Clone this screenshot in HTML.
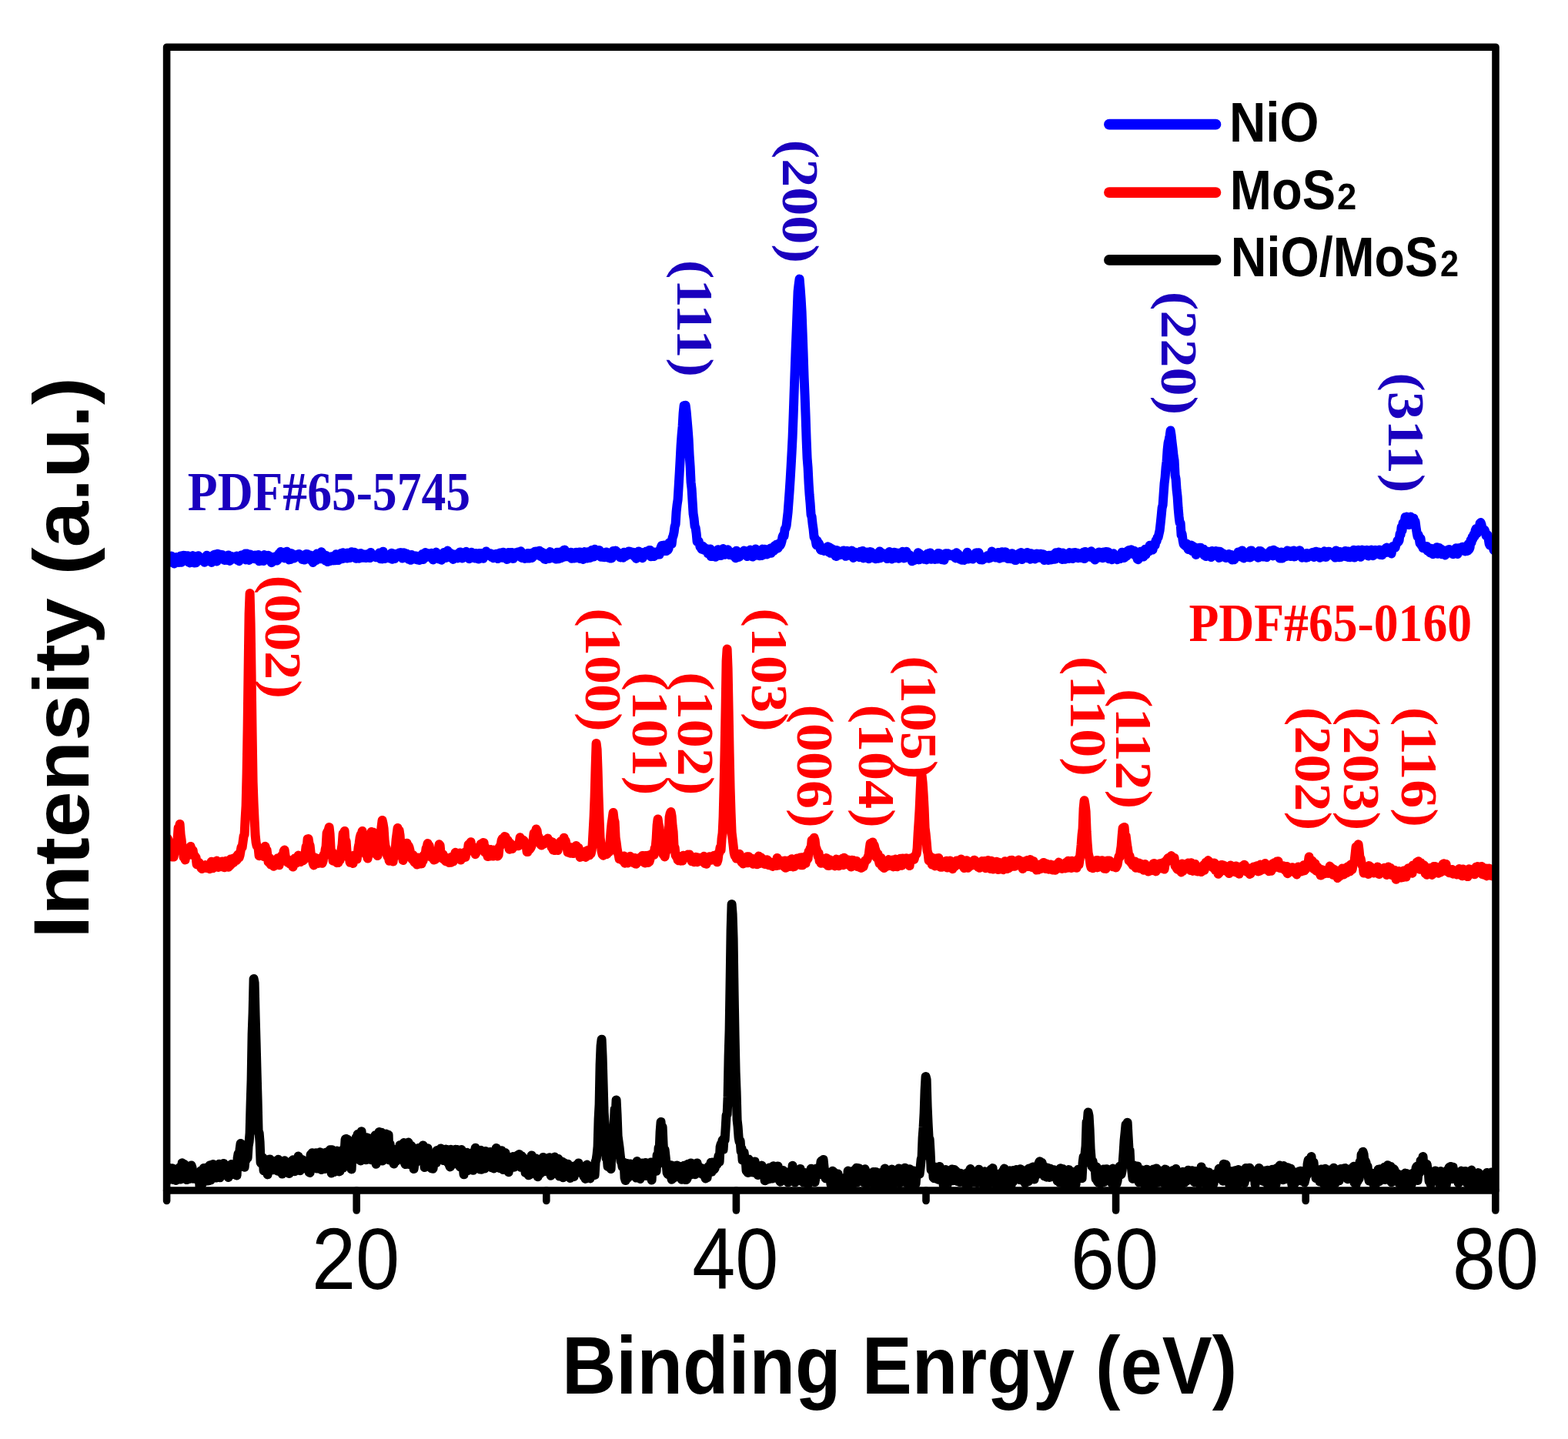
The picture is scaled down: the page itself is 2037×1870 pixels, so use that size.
<!DOCTYPE html>
<html><head><meta charset="utf-8"><title>XRD patterns</title>
<style>html,body{margin:0;padding:0;background:#fff;}body{width:2037px;height:1870px;overflow:hidden;}svg{display:block;filter:blur(0.55px);}</style>
</head><body>
<svg width="2037" height="1870" viewBox="0 0 2037 1870">
<clipPath id="c"><rect x="216.6" y="0" width="1726.4" height="1547"/></clipPath>
<path clip-path="url(#c)" d="M216.6,1535.5 L217.6,1518.6 218.6,1519.3 219.6,1517.8 220.6,1526.7 221.6,1524.2 222.6,1531.6 223.6,1518.2 224.6,1532.9 225.6,1523.9 226.6,1531.5 227.6,1531.5 228.6,1533.9 229.6,1524.9 230.6,1527.4 231.6,1526.4 232.6,1517.6 233.6,1523.8 234.6,1532.5 235.6,1531.5 236.6,1511.3 237.6,1524.7 238.6,1516.7 239.6,1513.1 240.6,1513.8 241.6,1528.8 242.6,1533.1 243.6,1524.1 244.6,1521.7 245.6,1525.1 246.6,1531.9 247.6,1529.8 248.6,1514.5 249.6,1517.6 250.6,1531.7 251.6,1523.2 252.6,1526.6 253.6,1530.7 254.6,1529.1 255.6,1532.7 256.6,1530.1 257.6,1524.6 258.6,1525.1 259.6,1544.3 260.6,1521.6 261.6,1535.4 262.6,1538.5 263.6,1523.1 264.6,1517.9 265.6,1524.5 266.6,1521.8 267.6,1524.5 268.6,1523.5 269.6,1534.6 270.6,1516.3 271.6,1534.2 272.6,1514.2 273.6,1533.6 274.6,1520.2 275.6,1528.9 276.6,1513.0 277.6,1522.7 278.6,1527.8 279.6,1526.7 280.6,1530.6 281.6,1516.0 282.6,1521.3 283.6,1525.8 284.6,1512.7 285.6,1530.3 286.6,1520.9 287.6,1516.9 288.6,1516.2 289.6,1525.4 290.6,1511.9 291.6,1516.0 292.6,1517.1 293.6,1515.9 294.6,1526.0 295.6,1523.1 296.6,1530.0 297.6,1525.6 298.6,1516.7 299.6,1517.4 300.6,1513.0 301.6,1515.6 302.6,1523.5 303.6,1526.1 304.6,1516.3 305.6,1516.9 306.6,1525.9 307.6,1527.5 308.6,1505.0 309.6,1499.1 310.6,1506.9 311.6,1493.3 312.6,1486.0 313.6,1490.2 314.6,1497.3 315.6,1488.0 316.6,1513.2 317.6,1516.8 318.6,1506.6 319.6,1507.6 320.6,1501.5 321.6,1504.7 322.6,1489.4 323.6,1484.0 324.6,1472.4 325.6,1434.8 326.6,1403.5 327.6,1344.2 328.6,1316.1 329.6,1272.0 330.6,1277.2 331.6,1319.6 332.6,1354.7 333.6,1394.2 334.6,1429.5 335.6,1471.4 336.6,1472.0 337.6,1484.2 338.6,1510.9 339.6,1511.9 340.6,1506.0 341.6,1504.5 342.6,1521.2 343.6,1521.1 344.6,1519.0 345.6,1516.3 346.6,1516.4 347.6,1526.4 348.6,1516.4 349.6,1506.7 350.6,1506.4 351.6,1517.7 352.6,1520.5 353.6,1517.9 354.6,1520.2 355.6,1510.0 356.6,1511.4 357.6,1508.8 358.6,1511.3 359.6,1509.1 360.6,1521.7 361.6,1506.7 362.6,1508.1 363.6,1519.3 364.6,1512.5 365.6,1511.5 366.6,1525.6 367.6,1524.1 368.6,1509.4 369.6,1508.2 370.6,1515.8 371.6,1517.8 372.6,1513.2 373.6,1519.1 374.6,1521.5 375.6,1525.0 376.6,1512.6 377.6,1522.1 378.6,1509.2 379.6,1508.5 380.6,1507.4 381.6,1507.9 382.6,1522.2 383.6,1511.9 384.6,1513.9 385.6,1512.0 386.6,1506.3 387.6,1502.5 388.6,1505.5 389.6,1521.2 390.6,1509.0 391.6,1510.8 392.6,1507.1 393.6,1518.7 394.6,1518.1 395.6,1510.9 396.6,1514.2 397.6,1511.9 398.6,1516.5 399.6,1517.3 400.6,1516.2 401.6,1523.5 402.6,1524.0 403.6,1500.5 404.6,1507.9 405.6,1498.2 406.6,1506.0 407.6,1517.5 408.6,1514.3 409.6,1511.4 410.6,1498.3 411.6,1518.5 412.6,1513.1 413.6,1504.4 414.6,1518.6 415.6,1497.3 416.6,1501.9 417.6,1520.1 418.6,1498.2 419.6,1501.1 420.6,1512.7 421.6,1519.0 422.6,1515.0 423.6,1497.4 424.6,1504.6 425.6,1518.1 426.6,1506.3 427.6,1501.0 428.6,1494.2 429.6,1502.4 430.6,1524.5 431.6,1494.3 432.6,1511.1 433.6,1523.1 434.6,1515.6 435.6,1501.0 436.6,1514.2 437.6,1495.4 438.6,1509.0 439.6,1500.3 440.6,1522.4 441.6,1522.0 442.6,1516.0 443.6,1499.6 444.6,1513.0 445.6,1517.7 446.6,1492.7 447.6,1496.4 448.6,1480.5 449.6,1479.9 450.6,1504.6 451.6,1480.8 452.6,1503.1 453.6,1485.7 454.6,1508.7 455.6,1513.5 456.6,1519.4 457.6,1496.4 458.6,1494.9 459.6,1493.9 460.6,1504.6 461.6,1506.5 462.6,1478.2 463.6,1485.7 464.6,1474.0 465.6,1480.4 466.6,1499.9 467.6,1507.5 468.6,1508.5 469.6,1470.2 470.6,1484.4 471.6,1504.5 472.6,1489.8 473.6,1483.8 474.6,1502.8 475.6,1507.2 476.6,1478.2 477.6,1494.0 478.6,1478.9 479.6,1480.6 480.6,1495.4 481.6,1484.2 482.6,1507.3 483.6,1489.4 484.6,1481.4 485.6,1499.2 486.6,1483.7 487.6,1475.2 488.6,1512.8 489.6,1479.1 490.6,1476.5 491.6,1490.4 492.6,1470.9 493.6,1502.3 494.6,1473.3 495.6,1471.7 496.6,1508.6 497.6,1490.3 498.6,1507.4 499.6,1506.7 500.6,1500.8 501.6,1473.5 502.6,1498.4 503.6,1476.2 504.6,1474.7 505.6,1507.5 506.6,1486.5 507.6,1503.7 508.6,1495.2 509.6,1505.2 510.6,1499.6 511.6,1512.5 512.6,1494.0 513.6,1509.4 514.6,1508.9 515.6,1500.7 516.6,1498.4 517.6,1496.3 518.6,1505.3 519.6,1487.9 520.6,1497.1 521.6,1504.9 522.6,1492.3 523.6,1489.0 524.6,1485.1 525.6,1510.5 526.6,1513.1 527.6,1511.6 528.6,1507.1 529.6,1503.5 530.6,1484.6 531.6,1513.1 532.6,1499.2 533.6,1507.2 534.6,1489.1 535.6,1510.7 536.6,1491.8 537.6,1519.0 538.6,1511.8 539.6,1506.8 540.6,1510.4 541.6,1496.8 542.6,1504.9 543.6,1492.0 544.6,1497.7 545.6,1497.5 546.6,1493.3 547.6,1500.6 548.6,1489.8 549.6,1488.4 550.6,1497.4 551.6,1517.0 552.6,1508.8 553.6,1499.6 554.6,1493.6 555.6,1492.2 556.6,1501.9 557.6,1509.9 558.6,1515.9 559.6,1505.9 560.6,1518.5 561.6,1517.4 562.6,1518.7 563.6,1503.3 564.6,1507.4 565.6,1498.4 566.6,1511.2 567.6,1495.1 568.6,1507.6 569.6,1498.2 570.6,1507.3 571.6,1498.2 572.6,1492.5 573.6,1504.8 574.6,1504.7 575.6,1508.0 576.6,1495.3 577.6,1506.4 578.6,1500.3 579.6,1493.6 580.6,1503.3 581.6,1510.8 582.6,1500.5 583.6,1513.5 584.6,1516.4 585.6,1493.8 586.6,1500.4 587.6,1503.1 588.6,1513.0 589.6,1508.6 590.6,1509.8 591.6,1493.7 592.6,1498.9 593.6,1493.9 594.6,1510.2 595.6,1507.1 596.6,1497.5 597.6,1516.3 598.6,1495.8 599.6,1494.0 600.6,1506.3 601.6,1516.6 602.6,1526.3 603.6,1513.0 604.6,1501.7 605.6,1515.2 606.6,1497.8 607.6,1521.3 608.6,1506.5 609.6,1499.7 610.6,1500.1 611.6,1519.0 612.6,1520.2 613.6,1498.0 614.6,1520.8 615.6,1515.7 616.6,1499.2 617.6,1491.8 618.6,1495.4 619.6,1504.4 620.6,1498.3 621.6,1498.3 622.6,1501.5 623.6,1519.6 624.6,1494.8 625.6,1519.8 626.6,1505.7 627.6,1513.5 628.6,1506.5 629.6,1518.4 630.6,1496.1 631.6,1498.8 632.6,1506.6 633.6,1507.1 634.6,1502.7 635.6,1502.5 636.6,1496.9 637.6,1509.0 638.6,1517.2 639.6,1517.1 640.6,1503.5 641.6,1518.5 642.6,1517.3 643.6,1498.4 644.6,1492.0 645.6,1512.6 646.6,1516.1 647.6,1508.6 648.6,1517.9 649.6,1505.0 650.6,1506.9 651.6,1495.2 652.6,1504.1 653.6,1520.0 654.6,1498.4 655.6,1500.1 656.6,1498.1 657.6,1511.4 658.6,1515.1 659.6,1513.5 660.6,1523.2 661.6,1518.2 662.6,1517.4 663.6,1516.8 664.6,1514.6 665.6,1503.4 666.6,1503.1 667.6,1516.7 668.6,1504.2 669.6,1508.6 670.6,1513.8 671.6,1511.5 672.6,1501.2 673.6,1502.6 674.6,1500.0 675.6,1514.5 676.6,1516.8 677.6,1502.2 678.6,1506.7 679.6,1504.3 680.6,1516.7 681.6,1508.8 682.6,1524.1 683.6,1508.7 684.6,1518.9 685.6,1519.0 686.6,1527.2 687.6,1521.2 688.6,1526.4 689.6,1517.0 690.6,1501.6 691.6,1509.7 692.6,1520.1 693.6,1509.5 694.6,1518.5 695.6,1505.2 696.6,1519.8 697.6,1513.8 698.6,1529.2 699.6,1507.3 700.6,1515.6 701.6,1525.2 702.6,1514.5 703.6,1515.3 704.6,1511.0 705.6,1503.9 706.6,1508.7 707.6,1522.2 708.6,1519.9 709.6,1508.6 710.6,1518.5 711.6,1522.4 712.6,1523.0 713.6,1504.3 714.6,1507.7 715.6,1527.8 716.6,1509.7 717.6,1522.3 718.6,1518.2 719.6,1524.1 720.6,1503.5 721.6,1525.1 722.6,1524.7 723.6,1509.7 724.6,1522.7 725.6,1506.1 726.6,1528.6 727.6,1518.6 728.6,1527.7 729.6,1528.7 730.6,1509.7 731.6,1530.2 732.6,1511.1 733.6,1512.1 734.6,1519.0 735.6,1513.9 736.6,1523.4 737.6,1512.7 738.6,1523.0 739.6,1526.3 740.6,1531.0 741.6,1518.0 742.6,1515.5 743.6,1521.9 744.6,1523.3 745.6,1529.1 746.6,1521.3 747.6,1517.7 748.6,1514.3 749.6,1523.4 750.6,1522.7 751.6,1511.4 752.6,1517.6 753.6,1515.8 754.6,1524.1 755.6,1522.7 756.6,1518.9 757.6,1526.6 758.6,1529.0 759.6,1521.5 760.6,1531.9 761.6,1515.1 762.6,1513.5 763.6,1527.4 764.6,1523.9 765.6,1527.7 766.6,1531.4 767.6,1521.4 768.6,1527.6 769.6,1523.0 770.6,1519.0 771.6,1517.6 772.6,1527.0 773.6,1509.8 774.6,1507.0 775.6,1500.1 776.6,1489.7 777.6,1454.0 778.6,1435.3 779.6,1383.6 780.6,1358.9 781.6,1350.7 782.6,1373.4 783.6,1409.2 784.6,1445.4 785.6,1459.8 786.6,1485.2 787.6,1505.4 788.6,1503.8 789.6,1516.0 790.6,1510.7 791.6,1511.6 792.6,1513.7 793.6,1519.1 794.6,1492.7 795.6,1488.3 796.6,1476.2 797.6,1463.3 798.6,1441.3 799.6,1450.2 800.6,1429.4 801.6,1449.1 802.6,1476.4 803.6,1483.7 804.6,1491.1 805.6,1500.5 806.6,1509.3 807.6,1510.3 808.6,1516.5 809.6,1517.0 810.6,1510.7 811.6,1530.6 812.6,1534.1 813.6,1523.8 814.6,1512.0 815.6,1530.5 816.6,1516.7 817.6,1516.3 818.6,1512.4 819.6,1527.5 820.6,1522.3 821.6,1513.4 822.6,1515.4 823.6,1517.0 824.6,1516.3 825.6,1523.6 826.6,1530.6 827.6,1509.0 828.6,1528.4 829.6,1528.5 830.6,1513.5 831.6,1531.9 832.6,1529.5 833.6,1526.0 834.6,1511.5 835.6,1519.8 836.6,1527.4 837.6,1522.7 838.6,1511.1 839.6,1528.0 840.6,1519.8 841.6,1515.3 842.6,1518.4 843.6,1512.6 844.6,1518.7 845.6,1510.5 846.6,1533.6 847.6,1513.1 848.6,1516.8 849.6,1514.7 850.6,1516.9 851.6,1512.0 852.6,1521.8 853.6,1501.0 854.6,1513.5 855.6,1491.5 856.6,1495.6 857.6,1470.8 858.6,1458.0 859.6,1474.6 860.6,1464.6 861.6,1487.3 862.6,1500.7 863.6,1494.2 864.6,1503.3 865.6,1513.8 866.6,1524.0 867.6,1525.9 868.6,1519.1 869.6,1522.0 870.6,1528.3 871.6,1514.3 872.6,1532.7 873.6,1531.8 874.6,1518.1 875.6,1527.6 876.6,1529.9 877.6,1527.9 878.6,1514.8 879.6,1514.5 880.6,1518.1 881.6,1515.3 882.6,1523.7 883.6,1529.3 884.6,1525.5 885.6,1532.7 886.6,1523.2 887.6,1522.1 888.6,1514.7 889.6,1532.9 890.6,1526.4 891.6,1533.1 892.6,1531.8 893.6,1512.8 894.6,1524.0 895.6,1521.2 896.6,1526.9 897.6,1511.4 898.6,1525.1 899.6,1524.2 900.6,1519.1 901.6,1513.8 902.6,1526.3 903.6,1512.4 904.6,1518.5 905.6,1511.4 906.6,1517.2 907.6,1515.6 908.6,1523.4 909.6,1524.5 910.6,1524.7 911.6,1518.3 912.6,1526.1 913.6,1524.2 914.6,1521.6 915.6,1527.1 916.6,1531.4 917.6,1520.7 918.6,1530.3 919.6,1521.9 920.6,1515.7 921.6,1516.6 922.6,1519.4 923.6,1510.8 924.6,1522.8 925.6,1510.6 926.6,1515.3 927.6,1519.7 928.6,1518.3 929.6,1513.8 930.6,1513.6 931.6,1513.2 932.6,1507.5 933.6,1501.8 934.6,1509.6 935.6,1490.5 936.6,1486.7 937.6,1487.3 938.6,1481.6 939.6,1493.8 940.6,1479.2 941.6,1481.3 942.6,1466.6 943.6,1449.1 944.6,1448.4 945.6,1425.2 946.6,1373.3 947.6,1339.2 948.6,1276.2 949.6,1209.0 950.6,1174.9 951.6,1188.2 952.6,1219.9 953.6,1289.9 954.6,1346.3 955.6,1392.7 956.6,1418.5 957.6,1455.3 958.6,1464.2 959.6,1478.1 960.6,1483.7 961.6,1482.4 962.6,1496.2 963.6,1492.8 964.6,1507.8 965.6,1500.7 966.6,1497.6 967.6,1506.3 968.6,1507.2 969.6,1521.6 970.6,1509.4 971.6,1523.9 972.6,1506.5 973.6,1510.2 974.6,1513.7 975.6,1523.3 976.6,1520.0 977.6,1515.5 978.6,1515.0 979.6,1523.8 980.6,1509.4 981.6,1523.2 982.6,1515.2 983.6,1523.3 984.6,1527.0 985.6,1519.5 986.6,1515.3 987.6,1517.3 988.6,1517.7 989.6,1514.6 990.6,1522.0 991.6,1527.0 992.6,1521.5 993.6,1534.2 994.6,1533.9 995.6,1531.0 996.6,1532.0 997.6,1522.0 998.6,1532.4 999.6,1517.5 1000.6,1517.3 1001.6,1518.9 1002.6,1523.4 1003.6,1531.5 1004.6,1515.3 1005.6,1522.2 1006.6,1525.9 1007.6,1530.5 1008.6,1523.3 1009.6,1517.6 1010.6,1515.4 1011.6,1526.0 1012.6,1533.9 1013.6,1535.7 1014.6,1532.3 1015.6,1524.0 1016.6,1521.7 1017.6,1521.1 1018.6,1526.0 1019.6,1531.8 1020.6,1523.3 1021.6,1533.7 1022.6,1526.9 1023.6,1536.6 1024.6,1530.1 1025.6,1534.5 1026.6,1522.4 1027.6,1528.5 1028.6,1534.6 1029.6,1514.7 1030.6,1534.9 1031.6,1527.6 1032.6,1536.6 1033.6,1521.1 1034.6,1525.7 1035.6,1530.1 1036.6,1528.3 1037.6,1528.9 1038.6,1534.3 1039.6,1519.0 1040.6,1531.2 1041.6,1525.3 1042.6,1535.6 1043.6,1536.5 1044.6,1525.6 1045.6,1524.0 1046.6,1536.2 1047.6,1537.4 1048.6,1533.9 1049.6,1537.0 1050.6,1538.2 1051.6,1528.1 1052.6,1525.4 1053.6,1518.8 1054.6,1527.1 1055.6,1522.0 1056.6,1532.8 1057.6,1529.6 1058.6,1536.1 1059.6,1529.6 1060.6,1518.5 1061.6,1519.4 1062.6,1520.1 1063.6,1518.8 1064.6,1526.0 1065.6,1516.9 1066.6,1509.1 1067.6,1508.2 1068.6,1516.1 1069.6,1507.0 1070.6,1517.0 1071.6,1528.3 1072.6,1531.3 1073.6,1525.5 1074.6,1526.8 1075.6,1523.5 1076.6,1530.2 1077.6,1528.1 1078.6,1533.1 1079.6,1539.8 1080.6,1535.4 1081.6,1521.8 1082.6,1522.4 1083.6,1533.7 1084.6,1539.8 1085.6,1531.4 1086.6,1537.3 1087.6,1525.6 1088.6,1525.5 1089.6,1542.4 1090.6,1540.7 1091.6,1531.9 1092.6,1540.5 1093.6,1536.4 1094.6,1539.1 1095.6,1534.5 1096.6,1536.3 1097.6,1541.6 1098.6,1530.0 1099.6,1536.4 1100.6,1541.6 1101.6,1521.6 1102.6,1526.5 1103.6,1529.0 1104.6,1534.0 1105.6,1531.6 1106.6,1542.6 1107.6,1525.2 1108.6,1526.8 1109.6,1520.9 1110.6,1522.3 1111.6,1530.6 1112.6,1517.8 1113.6,1536.5 1114.6,1532.8 1115.6,1518.3 1116.6,1534.1 1117.6,1519.8 1118.6,1528.8 1119.6,1522.4 1120.6,1521.8 1121.6,1529.5 1122.6,1537.0 1123.6,1519.2 1124.6,1521.7 1125.6,1527.6 1126.6,1537.7 1127.6,1524.5 1128.6,1536.5 1129.6,1530.1 1130.6,1528.9 1131.6,1536.6 1132.6,1524.9 1133.6,1533.1 1134.6,1523.0 1135.6,1533.5 1136.6,1543.6 1137.6,1522.9 1138.6,1523.3 1139.6,1533.4 1140.6,1541.0 1141.6,1532.4 1142.6,1541.0 1143.6,1526.5 1144.6,1540.9 1145.6,1523.4 1146.6,1535.4 1147.6,1525.4 1148.6,1536.1 1149.6,1518.4 1150.6,1524.5 1151.6,1537.9 1152.6,1534.5 1153.6,1528.1 1154.6,1525.7 1155.6,1538.1 1156.6,1521.9 1157.6,1522.1 1158.6,1519.6 1159.6,1533.3 1160.6,1539.0 1161.6,1522.1 1162.6,1536.3 1163.6,1535.9 1164.6,1523.1 1165.6,1529.6 1166.6,1530.3 1167.6,1518.5 1168.6,1537.6 1169.6,1519.3 1170.6,1519.5 1171.6,1531.6 1172.6,1527.0 1173.6,1533.1 1174.6,1529.9 1175.6,1517.7 1176.6,1525.4 1177.6,1537.4 1178.6,1523.0 1179.6,1520.7 1180.6,1536.5 1181.6,1519.3 1182.6,1526.7 1183.6,1540.0 1184.6,1537.5 1185.6,1522.0 1186.6,1521.4 1187.6,1530.4 1188.6,1535.2 1189.6,1538.2 1190.6,1524.8 1191.6,1528.0 1192.6,1526.5 1193.6,1520.7 1194.6,1525.5 1195.6,1517.4 1196.6,1507.0 1197.6,1503.5 1198.6,1478.1 1199.6,1465.1 1200.6,1446.7 1201.6,1416.5 1202.6,1399.0 1203.6,1403.0 1204.6,1437.7 1205.6,1460.2 1206.6,1478.8 1207.6,1480.3 1208.6,1497.3 1209.6,1520.3 1210.6,1516.5 1211.6,1516.4 1212.6,1530.2 1213.6,1531.3 1214.6,1516.4 1215.6,1527.4 1216.6,1530.0 1217.6,1531.1 1218.6,1532.8 1219.6,1530.2 1220.6,1516.1 1221.6,1522.2 1222.6,1520.7 1223.6,1531.2 1224.6,1530.0 1225.6,1540.1 1226.6,1524.2 1227.6,1522.0 1228.6,1520.1 1229.6,1524.0 1230.6,1539.5 1231.6,1533.5 1232.6,1525.6 1233.6,1532.6 1234.6,1533.9 1235.6,1526.7 1236.6,1519.5 1237.6,1534.3 1238.6,1531.4 1239.6,1520.1 1240.6,1529.5 1241.6,1521.8 1242.6,1527.8 1243.6,1535.0 1244.6,1532.3 1245.6,1526.4 1246.6,1536.1 1247.6,1524.8 1248.6,1533.5 1249.6,1525.5 1250.6,1532.9 1251.6,1531.6 1252.6,1532.1 1253.6,1537.4 1254.6,1536.7 1255.6,1540.4 1256.6,1523.9 1257.6,1540.6 1258.6,1533.6 1259.6,1522.2 1260.6,1519.0 1261.6,1523.6 1262.6,1527.7 1263.6,1531.2 1264.6,1536.1 1265.6,1534.5 1266.6,1535.7 1267.6,1534.0 1268.6,1534.4 1269.6,1537.2 1270.6,1532.5 1271.6,1519.7 1272.6,1529.4 1273.6,1527.0 1274.6,1532.5 1275.6,1524.1 1276.6,1538.3 1277.6,1524.4 1278.6,1528.4 1279.6,1522.3 1280.6,1539.0 1281.6,1538.7 1282.6,1539.5 1283.6,1523.1 1284.6,1525.3 1285.6,1537.8 1286.6,1536.7 1287.6,1519.5 1288.6,1527.0 1289.6,1518.1 1290.6,1535.2 1291.6,1535.5 1292.6,1537.8 1293.6,1535.1 1294.6,1526.7 1295.6,1525.8 1296.6,1531.8 1297.6,1526.5 1298.6,1538.2 1299.6,1527.2 1300.6,1526.9 1301.6,1538.2 1302.6,1522.3 1303.6,1524.0 1304.6,1518.6 1305.6,1537.5 1306.6,1528.7 1307.6,1527.2 1308.6,1537.2 1309.6,1537.8 1310.6,1522.7 1311.6,1521.3 1312.6,1538.4 1313.6,1540.4 1314.6,1531.7 1315.6,1536.2 1316.6,1521.0 1317.6,1530.9 1318.6,1521.4 1319.6,1522.1 1320.6,1519.9 1321.6,1530.0 1322.6,1530.4 1323.6,1526.7 1324.6,1533.1 1325.6,1519.2 1326.6,1522.5 1327.6,1521.4 1328.6,1528.7 1329.6,1534.9 1330.6,1521.4 1331.6,1537.6 1332.6,1525.7 1333.6,1522.6 1334.6,1523.9 1335.6,1535.3 1336.6,1518.6 1337.6,1527.8 1338.6,1524.1 1339.6,1528.6 1340.6,1524.6 1341.6,1516.6 1342.6,1516.4 1343.6,1532.4 1344.6,1521.5 1345.6,1527.6 1346.6,1526.5 1347.6,1517.2 1348.6,1522.8 1349.6,1511.5 1350.6,1509.3 1351.6,1522.0 1352.6,1511.6 1353.6,1510.9 1354.6,1516.4 1355.6,1515.6 1356.6,1528.4 1357.6,1527.5 1358.6,1523.7 1359.6,1529.7 1360.6,1517.5 1361.6,1519.5 1362.6,1522.9 1363.6,1529.9 1364.6,1518.7 1365.6,1521.6 1366.6,1524.6 1367.6,1520.9 1368.6,1523.9 1369.6,1520.2 1370.6,1524.1 1371.6,1526.7 1372.6,1528.7 1373.6,1534.6 1374.6,1523.6 1375.6,1525.9 1376.6,1536.8 1377.6,1518.3 1378.6,1529.4 1379.6,1520.9 1380.6,1518.9 1381.6,1538.3 1382.6,1533.7 1383.6,1529.6 1384.6,1537.4 1385.6,1540.8 1386.6,1532.8 1387.6,1530.0 1388.6,1520.1 1389.6,1540.9 1390.6,1537.2 1391.6,1522.4 1392.6,1530.0 1393.6,1525.5 1394.6,1540.8 1395.6,1526.5 1396.6,1522.7 1397.6,1539.1 1398.6,1525.8 1399.6,1521.6 1400.6,1519.8 1401.6,1521.2 1402.6,1526.2 1403.6,1521.1 1404.6,1528.8 1405.6,1531.2 1406.6,1511.3 1407.6,1503.3 1408.6,1511.6 1409.6,1498.6 1410.6,1489.4 1411.6,1457.9 1412.6,1458.5 1413.6,1445.5 1414.6,1450.3 1415.6,1467.5 1416.6,1492.7 1417.6,1505.1 1418.6,1515.6 1419.6,1509.3 1420.6,1518.0 1421.6,1514.2 1422.6,1517.0 1423.6,1531.9 1424.6,1516.5 1425.6,1535.0 1426.6,1536.5 1427.6,1525.3 1428.6,1529.1 1429.6,1537.7 1430.6,1532.9 1431.6,1534.9 1432.6,1534.3 1433.6,1519.6 1434.6,1536.0 1435.6,1534.5 1436.6,1526.2 1437.6,1519.2 1438.6,1525.6 1439.6,1529.5 1440.6,1524.7 1441.6,1529.0 1442.6,1524.4 1443.6,1531.9 1444.6,1538.1 1445.6,1518.6 1446.6,1532.7 1447.6,1537.7 1448.6,1521.1 1449.6,1531.4 1450.6,1538.2 1451.6,1534.6 1452.6,1526.9 1453.6,1524.5 1454.6,1515.8 1455.6,1523.2 1456.6,1526.2 1457.6,1521.3 1458.6,1511.7 1459.6,1497.8 1460.6,1481.7 1461.6,1471.9 1462.6,1461.4 1463.6,1462.4 1464.6,1458.7 1465.6,1477.0 1466.6,1494.7 1467.6,1494.8 1468.6,1514.7 1469.6,1514.5 1470.6,1523.8 1471.6,1531.7 1472.6,1514.2 1473.6,1522.2 1474.6,1517.7 1475.6,1517.6 1476.6,1530.7 1477.6,1515.4 1478.6,1528.8 1479.6,1536.4 1480.6,1525.9 1481.6,1532.1 1482.6,1520.3 1483.6,1534.3 1484.6,1535.1 1485.6,1531.2 1486.6,1538.8 1487.6,1531.0 1488.6,1532.3 1489.6,1519.8 1490.6,1537.8 1491.6,1527.6 1492.6,1534.8 1493.6,1530.0 1494.6,1522.1 1495.6,1528.8 1496.6,1538.3 1497.6,1531.8 1498.6,1519.4 1499.6,1529.2 1500.6,1537.6 1501.6,1518.6 1502.6,1518.4 1503.6,1536.8 1504.6,1532.2 1505.6,1536.0 1506.6,1526.5 1507.6,1531.6 1508.6,1522.4 1509.6,1521.6 1510.6,1531.0 1511.6,1537.4 1512.6,1530.5 1513.6,1519.6 1514.6,1519.9 1515.6,1537.1 1516.6,1529.0 1517.6,1525.9 1518.6,1527.8 1519.6,1543.0 1520.6,1532.5 1521.6,1524.2 1522.6,1524.3 1523.6,1520.9 1524.6,1539.5 1525.6,1527.9 1526.6,1527.0 1527.6,1519.0 1528.6,1524.4 1529.6,1536.8 1530.6,1538.1 1531.6,1530.0 1532.6,1526.9 1533.6,1542.5 1534.6,1527.9 1535.6,1526.2 1536.6,1522.7 1537.6,1529.8 1538.6,1536.9 1539.6,1529.2 1540.6,1535.3 1541.6,1524.2 1542.6,1532.0 1543.6,1520.7 1544.6,1526.8 1545.6,1523.4 1546.6,1523.1 1547.6,1533.1 1548.6,1521.3 1549.6,1527.7 1550.6,1524.6 1551.6,1536.2 1552.6,1521.9 1553.6,1524.6 1554.6,1532.6 1555.6,1523.3 1556.6,1532.8 1557.6,1538.0 1558.6,1524.3 1559.6,1528.0 1560.6,1516.4 1561.6,1533.4 1562.6,1524.5 1563.6,1530.1 1564.6,1521.7 1565.6,1532.4 1566.6,1529.1 1567.6,1540.5 1568.6,1540.0 1569.6,1531.9 1570.6,1523.5 1571.6,1526.3 1572.6,1532.2 1573.6,1538.2 1574.6,1540.5 1575.6,1540.5 1576.6,1537.9 1577.6,1530.5 1578.6,1532.7 1579.6,1525.3 1580.6,1531.5 1581.6,1527.0 1582.6,1530.4 1583.6,1518.8 1584.6,1519.6 1585.6,1531.3 1586.6,1525.4 1587.6,1519.7 1588.6,1534.7 1589.6,1512.7 1590.6,1532.5 1591.6,1530.9 1592.6,1513.6 1593.6,1534.6 1594.6,1532.9 1595.6,1523.7 1596.6,1535.4 1597.6,1541.2 1598.6,1522.0 1599.6,1527.0 1600.6,1523.1 1601.6,1539.1 1602.6,1522.3 1603.6,1521.4 1604.6,1521.3 1605.6,1537.6 1606.6,1523.6 1607.6,1540.5 1608.6,1520.0 1609.6,1529.3 1610.6,1522.1 1611.6,1523.1 1612.6,1523.0 1613.6,1531.1 1614.6,1523.5 1615.6,1526.0 1616.6,1537.3 1617.6,1531.5 1618.6,1517.9 1619.6,1523.1 1620.6,1530.2 1621.6,1523.3 1622.6,1517.9 1623.6,1517.7 1624.6,1522.8 1625.6,1529.4 1626.6,1527.0 1627.6,1522.7 1628.6,1521.7 1629.6,1525.9 1630.6,1539.4 1631.6,1522.7 1632.6,1521.6 1633.6,1521.0 1634.6,1530.4 1635.6,1517.9 1636.6,1523.2 1637.6,1522.2 1638.6,1523.9 1639.6,1525.0 1640.6,1534.8 1641.6,1523.8 1642.6,1521.6 1643.6,1536.2 1644.6,1524.6 1645.6,1523.6 1646.6,1520.7 1647.6,1541.1 1648.6,1534.4 1649.6,1533.3 1650.6,1521.1 1651.6,1537.1 1652.6,1519.7 1653.6,1533.8 1654.6,1536.9 1655.6,1528.7 1656.6,1522.4 1657.6,1539.2 1658.6,1517.9 1659.6,1521.9 1660.6,1527.4 1661.6,1525.8 1662.6,1514.5 1663.6,1515.4 1664.6,1518.3 1665.6,1531.7 1666.6,1533.2 1667.6,1514.9 1668.6,1532.6 1669.6,1523.5 1670.6,1521.0 1671.6,1525.5 1672.6,1517.3 1673.6,1532.1 1674.6,1532.2 1675.6,1522.9 1676.6,1518.6 1677.6,1534.8 1678.6,1540.4 1679.6,1522.2 1680.6,1541.4 1681.6,1531.7 1682.6,1524.3 1683.6,1535.7 1684.6,1535.4 1685.6,1525.9 1686.6,1530.4 1687.6,1522.2 1688.6,1530.4 1689.6,1521.8 1690.6,1525.5 1691.6,1534.9 1692.6,1534.8 1693.6,1531.7 1694.6,1536.6 1695.6,1532.8 1696.6,1527.6 1697.6,1527.2 1698.6,1512.7 1699.6,1507.6 1700.6,1508.5 1701.6,1516.7 1702.6,1519.7 1703.6,1503.0 1704.6,1521.9 1705.6,1521.8 1706.6,1510.8 1707.6,1522.2 1708.6,1518.7 1709.6,1531.2 1710.6,1523.9 1711.6,1525.6 1712.6,1530.1 1713.6,1524.4 1714.6,1535.6 1715.6,1531.7 1716.6,1519.4 1717.6,1530.6 1718.6,1527.6 1719.6,1538.3 1720.6,1538.6 1721.6,1518.8 1722.6,1534.2 1723.6,1531.2 1724.6,1528.8 1725.6,1520.5 1726.6,1538.0 1727.6,1532.7 1728.6,1532.7 1729.6,1540.2 1730.6,1521.0 1731.6,1526.1 1732.6,1517.7 1733.6,1522.5 1734.6,1537.5 1735.6,1523.2 1736.6,1532.3 1737.6,1533.8 1738.6,1527.4 1739.6,1534.4 1740.6,1521.5 1741.6,1519.1 1742.6,1522.6 1743.6,1520.8 1744.6,1520.2 1745.6,1518.5 1746.6,1518.2 1747.6,1518.1 1748.6,1526.4 1749.6,1519.3 1750.6,1532.3 1751.6,1523.0 1752.6,1528.3 1753.6,1522.5 1754.6,1525.7 1755.6,1527.6 1756.6,1517.6 1757.6,1517.0 1758.6,1515.8 1759.6,1537.1 1760.6,1522.4 1761.6,1539.5 1762.6,1533.9 1763.6,1535.0 1764.6,1516.4 1765.6,1532.1 1766.6,1509.7 1767.6,1521.3 1768.6,1500.1 1769.6,1517.3 1770.6,1496.8 1771.6,1500.1 1772.6,1510.6 1773.6,1508.6 1774.6,1511.1 1775.6,1519.9 1776.6,1515.8 1777.6,1529.3 1778.6,1534.4 1779.6,1529.6 1780.6,1531.3 1781.6,1524.5 1782.6,1529.4 1783.6,1532.9 1784.6,1539.7 1785.6,1530.6 1786.6,1540.4 1787.6,1527.3 1788.6,1531.5 1789.6,1533.9 1790.6,1519.7 1791.6,1535.3 1792.6,1534.7 1793.6,1519.2 1794.6,1531.1 1795.6,1525.5 1796.6,1519.8 1797.6,1519.6 1798.6,1516.7 1799.6,1532.9 1800.6,1528.9 1801.6,1526.2 1802.6,1514.3 1803.6,1527.6 1804.6,1518.8 1805.6,1525.5 1806.6,1515.9 1807.6,1536.2 1808.6,1524.0 1809.6,1531.8 1810.6,1519.1 1811.6,1520.5 1812.6,1532.6 1813.6,1531.0 1814.6,1529.5 1815.6,1525.4 1816.6,1531.3 1817.6,1537.9 1818.6,1536.6 1819.6,1536.5 1820.6,1529.5 1821.6,1529.6 1822.6,1539.5 1823.6,1525.9 1824.6,1531.6 1825.6,1524.6 1826.6,1529.7 1827.6,1525.1 1828.6,1539.3 1829.6,1540.0 1830.6,1528.1 1831.6,1537.5 1832.6,1537.8 1833.6,1539.5 1834.6,1536.4 1835.6,1524.5 1836.6,1533.0 1837.6,1524.1 1838.6,1527.9 1839.6,1517.7 1840.6,1515.7 1841.6,1533.9 1842.6,1523.1 1843.6,1522.5 1844.6,1523.7 1845.6,1508.2 1846.6,1519.4 1847.6,1518.8 1848.6,1503.0 1849.6,1519.4 1850.6,1514.0 1851.6,1516.7 1852.6,1515.4 1853.6,1512.8 1854.6,1518.8 1855.6,1520.9 1856.6,1535.0 1857.6,1531.9 1858.6,1539.1 1859.6,1522.4 1860.6,1535.3 1861.6,1532.5 1862.6,1527.2 1863.6,1533.2 1864.6,1521.5 1865.6,1534.2 1866.6,1524.1 1867.6,1530.3 1868.6,1533.3 1869.6,1523.8 1870.6,1540.4 1871.6,1522.0 1872.6,1539.3 1873.6,1541.1 1874.6,1537.8 1875.6,1530.0 1876.6,1537.5 1877.6,1533.7 1878.6,1541.0 1879.6,1534.0 1880.6,1520.4 1881.6,1528.6 1882.6,1517.0 1883.6,1525.3 1884.6,1516.0 1885.6,1524.3 1886.6,1532.0 1887.6,1516.8 1888.6,1526.0 1889.6,1521.8 1890.6,1529.4 1891.6,1531.1 1892.6,1523.3 1893.6,1529.9 1894.6,1537.5 1895.6,1532.6 1896.6,1524.7 1897.6,1530.5 1898.6,1521.6 1899.6,1524.0 1900.6,1529.9 1901.6,1523.5 1902.6,1531.7 1903.6,1521.9 1904.6,1535.8 1905.6,1537.3 1906.6,1537.3 1907.6,1535.8 1908.6,1532.5 1909.6,1538.4 1910.6,1522.1 1911.6,1520.6 1912.6,1527.2 1913.6,1541.5 1914.6,1530.7 1915.6,1533.0 1916.6,1526.7 1917.6,1533.5 1918.6,1538.3 1919.6,1534.8 1920.6,1524.1 1921.6,1531.9 1922.6,1533.6 1923.6,1528.4 1924.6,1527.4 1925.6,1542.9 1926.6,1526.9 1927.6,1532.0 1928.6,1538.3 1929.6,1541.3 1930.6,1529.0 1931.6,1523.9 1932.6,1541.6 1933.6,1536.2 1934.6,1538.4 1935.6,1536.6 1936.6,1537.3 1937.6,1523.5 1938.6,1524.9 1939.6,1541.7 1940.6,1528.9 1941.6,1536.0 1942.6,1538.3" fill="none" stroke="#000" stroke-width="12" stroke-linejoin="round" stroke-linecap="round"/>
<path clip-path="url(#c)" d="M216.6,1088.6 L217.6,1089.5 218.6,1091.3 219.6,1101.2 220.6,1098.8 221.6,1103.5 222.6,1103.6 223.6,1113.5 224.6,1110.8 225.6,1113.6 226.6,1107.5 227.6,1102.6 228.6,1101.0 229.6,1098.8 230.6,1090.2 231.6,1075.9 232.6,1076.7 233.6,1071.0 234.6,1084.6 235.6,1091.1 236.6,1100.8 237.6,1103.7 238.6,1114.1 239.6,1109.5 240.6,1117.4 241.6,1108.1 242.6,1111.0 243.6,1110.0 244.6,1111.3 245.6,1105.6 246.6,1105.5 247.6,1100.0 248.6,1103.1 249.6,1109.3 250.6,1105.0 251.6,1111.6 252.6,1111.7 253.6,1113.1 254.6,1114.4 255.6,1123.4 256.6,1123.0 257.6,1120.3 258.6,1121.0 259.6,1125.1 260.6,1124.5 261.6,1128.4 262.6,1129.0 263.6,1124.6 264.6,1127.0 265.6,1126.2 266.6,1124.1 267.6,1125.3 268.6,1127.9 269.6,1125.8 270.6,1126.3 271.6,1124.4 272.6,1129.2 273.6,1126.9 274.6,1119.8 275.6,1127.2 276.6,1128.3 277.6,1127.2 278.6,1121.9 279.6,1122.2 280.6,1120.7 281.6,1118.5 282.6,1122.9 283.6,1126.9 284.6,1125.8 285.6,1124.4 286.6,1126.2 287.6,1124.0 288.6,1119.4 289.6,1126.0 290.6,1121.4 291.6,1127.3 292.6,1121.3 293.6,1118.8 294.6,1126.0 295.6,1118.8 296.6,1126.8 297.6,1121.4 298.6,1125.0 299.6,1116.5 300.6,1121.4 301.6,1122.2 302.6,1115.8 303.6,1120.7 304.6,1115.0 305.6,1116.1 306.6,1116.0 307.6,1117.9 308.6,1111.4 309.6,1110.2 310.6,1114.6 311.6,1111.5 312.6,1105.8 313.6,1100.6 314.6,1101.2 315.6,1094.0 316.6,1086.6 317.6,1084.5 318.6,1063.7 319.6,1046.9 320.6,1005.2 321.6,945.5 322.6,869.4 323.6,797.3 324.6,771.0 325.6,810.9 326.6,879.4 327.6,952.4 328.6,1016.1 329.6,1044.2 330.6,1065.8 331.6,1084.9 332.6,1094.7 333.6,1099.2 334.6,1100.1 335.6,1102.3 336.6,1112.2 337.6,1111.4 338.6,1111.7 339.6,1105.9 340.6,1108.1 341.6,1105.2 342.6,1112.9 343.6,1102.5 344.6,1099.8 345.6,1105.3 346.6,1104.7 347.6,1112.5 348.6,1120.1 349.6,1121.1 350.6,1115.5 351.6,1123.6 352.6,1118.4 353.6,1120.0 354.6,1118.1 355.6,1125.8 356.6,1118.3 357.6,1123.2 358.6,1121.6 359.6,1122.0 360.6,1115.3 361.6,1119.6 362.6,1124.3 363.6,1119.0 364.6,1114.2 365.6,1112.2 366.6,1114.1 367.6,1116.7 368.6,1106.1 369.6,1104.5 370.6,1112.0 371.6,1117.6 372.6,1116.1 373.6,1120.8 374.6,1118.5 375.6,1119.7 376.6,1122.6 377.6,1120.3 378.6,1123.3 379.6,1119.0 380.6,1126.6 381.6,1122.7 382.6,1115.6 383.6,1115.7 384.6,1121.7 385.6,1115.7 386.6,1114.3 387.6,1111.6 388.6,1118.6 389.6,1117.3 390.6,1120.0 391.6,1112.4 392.6,1118.4 393.6,1118.6 394.6,1117.6 395.6,1114.9 396.6,1108.7 397.6,1100.1 398.6,1101.7 399.6,1090.4 400.6,1090.0 401.6,1096.5 402.6,1098.7 403.6,1107.8 404.6,1116.7 405.6,1112.5 406.6,1121.5 407.6,1124.4 408.6,1114.1 409.6,1118.4 410.6,1121.4 411.6,1121.6 412.6,1116.4 413.6,1121.9 414.6,1117.2 415.6,1115.4 416.6,1118.8 417.6,1119.7 418.6,1121.8 419.6,1119.0 420.6,1110.8 421.6,1112.5 422.6,1104.2 423.6,1099.9 424.6,1082.7 425.6,1080.6 426.6,1078.7 427.6,1075.0 428.6,1083.8 429.6,1102.9 430.6,1110.4 431.6,1107.5 432.6,1118.7 433.6,1114.5 434.6,1116.5 435.6,1116.4 436.6,1115.1 437.6,1121.2 438.6,1118.0 439.6,1121.0 440.6,1116.5 441.6,1117.8 442.6,1109.6 443.6,1103.6 444.6,1097.4 445.6,1083.3 446.6,1086.4 447.6,1080.0 448.6,1094.7 449.6,1092.9 450.6,1107.4 451.6,1113.4 452.6,1114.4 453.6,1111.6 454.6,1120.7 455.6,1116.1 456.6,1115.4 457.6,1119.5 458.6,1122.0 459.6,1111.8 460.6,1114.8 461.6,1116.4 462.6,1110.8 463.6,1116.7 464.6,1110.8 465.6,1101.1 466.6,1096.1 467.6,1088.6 468.6,1084.8 469.6,1086.2 470.6,1080.0 471.6,1087.3 472.6,1095.5 473.6,1105.7 474.6,1108.4 475.6,1110.6 476.6,1108.4 477.6,1115.5 478.6,1109.7 479.6,1109.9 480.6,1094.3 481.6,1090.5 482.6,1081.0 483.6,1081.5 484.6,1081.4 485.6,1086.6 486.6,1090.9 487.6,1103.5 488.6,1110.1 489.6,1110.6 490.6,1112.1 491.6,1105.7 492.6,1097.5 493.6,1088.5 494.6,1084.4 495.6,1073.9 496.6,1066.0 497.6,1070.4 498.6,1076.8 499.6,1092.1 500.6,1100.0 501.6,1101.8 502.6,1109.9 503.6,1113.2 504.6,1109.6 505.6,1118.7 506.6,1117.9 507.6,1111.2 508.6,1112.2 509.6,1109.8 510.6,1119.6 511.6,1109.7 512.6,1113.3 513.6,1104.1 514.6,1091.1 515.6,1083.5 516.6,1076.0 517.6,1079.0 518.6,1079.2 519.6,1085.7 520.6,1103.5 521.6,1105.7 522.6,1105.4 523.6,1117.9 524.6,1115.4 525.6,1112.1 526.6,1105.6 527.6,1107.1 528.6,1095.7 529.6,1101.4 530.6,1099.1 531.6,1101.3 532.6,1105.5 533.6,1111.3 534.6,1110.6 535.6,1117.0 536.6,1111.2 537.6,1119.0 538.6,1120.7 539.6,1115.8 540.6,1114.7 541.6,1123.6 542.6,1123.3 543.6,1114.6 544.6,1119.8 545.6,1115.2 546.6,1115.3 547.6,1122.4 548.6,1118.5 549.6,1118.3 550.6,1111.4 551.6,1114.4 552.6,1110.0 553.6,1102.4 554.6,1100.8 555.6,1096.0 556.6,1100.4 557.6,1099.0 558.6,1105.7 559.6,1113.6 560.6,1113.9 561.6,1114.7 562.6,1109.9 563.6,1117.6 564.6,1114.6 565.6,1116.8 566.6,1114.4 567.6,1111.8 568.6,1104.3 569.6,1104.8 570.6,1097.3 571.6,1098.5 572.6,1109.2 573.6,1110.5 574.6,1115.5 575.6,1110.4 576.6,1113.8 577.6,1117.9 578.6,1116.5 579.6,1119.5 580.6,1114.8 581.6,1120.0 582.6,1120.4 583.6,1121.0 584.6,1115.4 585.6,1120.8 586.6,1113.8 587.6,1116.3 588.6,1119.6 589.6,1114.0 590.6,1111.7 591.6,1107.8 592.6,1109.0 593.6,1108.9 594.6,1111.5 595.6,1110.7 596.6,1109.2 597.6,1108.4 598.6,1117.6 599.6,1113.7 600.6,1108.7 601.6,1110.2 602.6,1113.1 603.6,1107.8 604.6,1113.9 605.6,1108.4 606.6,1108.0 607.6,1105.5 608.6,1097.4 609.6,1103.6 610.6,1101.6 611.6,1094.3 612.6,1100.5 613.6,1102.4 614.6,1102.4 615.6,1105.3 616.6,1105.6 617.6,1110.2 618.6,1107.9 619.6,1103.6 620.6,1103.7 621.6,1101.0 622.6,1104.0 623.6,1100.7 624.6,1096.8 625.6,1097.2 626.6,1098.2 627.6,1095.0 628.6,1095.3 629.6,1107.5 630.6,1100.9 631.6,1103.1 632.6,1109.3 633.6,1113.1 634.6,1104.1 635.6,1107.4 636.6,1112.5 637.6,1104.0 638.6,1106.0 639.6,1110.1 640.6,1112.6 641.6,1104.6 642.6,1108.1 643.6,1110.0 644.6,1109.4 645.6,1108.4 646.6,1112.5 647.6,1111.1 648.6,1101.0 649.6,1099.5 650.6,1098.5 651.6,1092.2 652.6,1089.9 653.6,1091.8 654.6,1094.8 655.6,1087.1 656.6,1087.4 657.6,1094.2 658.6,1093.0 659.6,1091.8 660.6,1094.2 661.6,1103.7 662.6,1095.8 663.6,1101.9 664.6,1099.4 665.6,1103.0 666.6,1100.9 667.6,1098.5 668.6,1098.8 669.6,1099.3 670.6,1099.2 671.6,1098.9 672.6,1098.5 673.6,1099.3 674.6,1095.8 675.6,1088.3 676.6,1090.5 677.6,1095.8 678.6,1096.8 679.6,1091.7 680.6,1092.3 681.6,1096.0 682.6,1096.1 683.6,1098.8 684.6,1107.0 685.6,1107.0 686.6,1102.6 687.6,1102.8 688.6,1103.2 689.6,1101.5 690.6,1099.1 691.6,1096.6 692.6,1091.5 693.6,1082.6 694.6,1085.5 695.6,1083.2 696.6,1077.5 697.6,1079.6 698.6,1087.1 699.6,1087.3 700.6,1094.6 701.6,1091.4 702.6,1097.7 703.6,1098.5 704.6,1093.8 705.6,1096.0 706.6,1096.6 707.6,1095.5 708.6,1091.8 709.6,1091.9 710.6,1093.8 711.6,1089.6 712.6,1094.2 713.6,1092.8 714.6,1094.8 715.6,1093.5 716.6,1101.2 717.6,1094.4 718.6,1104.6 719.6,1101.1 720.6,1105.1 721.6,1100.7 722.6,1098.8 723.6,1099.1 724.6,1105.1 725.6,1100.3 726.6,1098.3 727.6,1094.6 728.6,1093.1 729.6,1094.7 730.6,1093.7 731.6,1096.5 732.6,1088.7 733.6,1093.5 734.6,1092.4 735.6,1096.8 736.6,1101.6 737.6,1107.7 738.6,1100.9 739.6,1102.3 740.6,1108.7 741.6,1106.7 742.6,1101.3 743.6,1107.2 744.6,1109.1 745.6,1105.3 746.6,1106.7 747.6,1103.1 748.6,1099.0 749.6,1105.8 750.6,1105.2 751.6,1101.8 752.6,1106.3 753.6,1113.9 754.6,1111.4 755.6,1108.8 756.6,1112.7 757.6,1112.6 758.6,1107.0 759.6,1110.3 760.6,1113.9 761.6,1106.0 762.6,1110.3 763.6,1105.0 764.6,1106.5 765.6,1111.4 766.6,1106.0 767.6,1109.4 768.6,1105.0 769.6,1097.5 770.6,1079.6 771.6,1061.2 772.6,1035.0 773.6,997.2 774.6,966.0 775.6,973.7 776.6,1001.5 777.6,1036.4 778.6,1064.5 779.6,1088.5 780.6,1096.8 781.6,1106.4 782.6,1110.6 783.6,1111.6 784.6,1111.2 785.6,1103.9 786.6,1104.2 787.6,1106.3 788.6,1109.9 789.6,1106.6 790.6,1102.5 791.6,1106.9 792.6,1093.6 793.6,1080.0 794.6,1070.1 795.6,1063.3 796.6,1056.0 797.6,1064.5 798.6,1068.1 799.6,1088.4 800.6,1094.7 801.6,1102.4 802.6,1108.2 803.6,1111.0 804.6,1116.3 805.6,1112.1 806.6,1114.7 807.6,1115.1 808.6,1117.8 809.6,1117.6 810.6,1112.4 811.6,1121.7 812.6,1119.8 813.6,1114.0 814.6,1117.4 815.6,1121.4 816.6,1120.8 817.6,1115.1 818.6,1112.8 819.6,1120.2 820.6,1118.4 821.6,1118.2 822.6,1116.1 823.6,1121.7 824.6,1114.9 825.6,1122.5 826.6,1122.7 827.6,1119.1 828.6,1116.9 829.6,1119.8 830.6,1116.0 831.6,1115.7 832.6,1113.6 833.6,1118.7 834.6,1111.9 835.6,1115.8 836.6,1115.4 837.6,1121.5 838.6,1112.0 839.6,1117.1 840.6,1113.4 841.6,1121.0 842.6,1111.5 843.6,1119.7 844.6,1116.1 845.6,1110.4 846.6,1112.0 847.6,1109.3 848.6,1110.0 849.6,1111.0 850.6,1102.5 851.6,1100.7 852.6,1090.3 853.6,1072.3 854.6,1064.4 855.6,1071.3 856.6,1075.7 857.6,1085.1 858.6,1101.6 859.6,1104.4 860.6,1105.1 861.6,1110.6 862.6,1111.1 863.6,1113.5 864.6,1108.0 865.6,1106.3 866.6,1097.5 867.6,1096.9 868.6,1085.9 869.6,1061.7 870.6,1057.2 871.6,1055.0 872.6,1060.5 873.6,1073.4 874.6,1080.9 875.6,1100.6 876.6,1101.4 877.6,1111.4 878.6,1113.2 879.6,1112.9 880.6,1117.7 881.6,1118.3 882.6,1113.1 883.6,1113.7 884.6,1118.7 885.6,1113.9 886.6,1118.6 887.6,1111.7 888.6,1112.0 889.6,1113.6 890.6,1112.6 891.6,1114.1 892.6,1111.4 893.6,1110.6 894.6,1112.8 895.6,1110.4 896.6,1112.1 897.6,1113.0 898.6,1119.3 899.6,1113.9 900.6,1116.2 901.6,1120.2 902.6,1115.3 903.6,1113.8 904.6,1117.2 905.6,1120.2 906.6,1114.4 907.6,1119.6 908.6,1116.9 909.6,1117.6 910.6,1119.0 911.6,1117.2 912.6,1114.2 913.6,1114.8 914.6,1112.8 915.6,1122.1 916.6,1119.6 917.6,1122.8 918.6,1115.8 919.6,1118.2 920.6,1118.1 921.6,1113.2 922.6,1117.5 923.6,1117.7 924.6,1115.4 925.6,1114.6 926.6,1113.5 927.6,1111.7 928.6,1117.3 929.6,1112.6 930.6,1110.9 931.6,1120.3 932.6,1117.3 933.6,1109.3 934.6,1107.7 935.6,1101.1 936.6,1104.7 937.6,1089.6 938.6,1083.0 939.6,1061.6 940.6,1021.1 941.6,974.3 942.6,920.0 943.6,859.0 944.6,843.5 945.6,869.0 946.6,922.0 947.6,977.9 948.6,1024.4 949.6,1056.5 950.6,1082.1 951.6,1090.2 952.6,1098.7 953.6,1108.0 954.6,1112.0 955.6,1111.0 956.6,1115.6 957.6,1114.7 958.6,1110.9 959.6,1110.3 960.6,1109.8 961.6,1117.7 962.6,1115.5 963.6,1120.6 964.6,1117.3 965.6,1122.4 966.6,1121.6 967.6,1119.7 968.6,1121.3 969.6,1121.1 970.6,1113.2 971.6,1121.3 972.6,1113.3 973.6,1117.7 974.6,1117.6 975.6,1121.1 976.6,1115.6 977.6,1121.3 978.6,1122.8 979.6,1118.3 980.6,1121.4 981.6,1119.1 982.6,1122.3 983.6,1123.2 984.6,1118.6 985.6,1112.6 986.6,1122.1 987.6,1117.9 988.6,1114.2 989.6,1121.1 990.6,1118.8 991.6,1116.6 992.6,1119.2 993.6,1123.0 994.6,1120.7 995.6,1118.4 996.6,1117.3 997.6,1120.7 998.6,1124.2 999.6,1119.8 1000.6,1120.3 1001.6,1124.3 1002.6,1122.3 1003.6,1125.9 1004.6,1124.1 1005.6,1125.0 1006.6,1120.1 1007.6,1122.8 1008.6,1125.1 1009.6,1114.9 1010.6,1120.7 1011.6,1124.4 1012.6,1119.4 1013.6,1118.3 1014.6,1123.8 1015.6,1119.6 1016.6,1120.4 1017.6,1119.0 1018.6,1126.2 1019.6,1118.5 1020.6,1127.8 1021.6,1123.6 1022.6,1121.6 1023.6,1118.6 1024.6,1121.1 1025.6,1119.4 1026.6,1125.9 1027.6,1121.8 1028.6,1116.2 1029.6,1126.1 1030.6,1126.4 1031.6,1126.2 1032.6,1118.0 1033.6,1120.3 1034.6,1122.4 1035.6,1115.4 1036.6,1118.7 1037.6,1117.6 1038.6,1123.6 1039.6,1114.4 1040.6,1124.3 1041.6,1114.3 1042.6,1124.2 1043.6,1118.8 1044.6,1115.3 1045.6,1115.9 1046.6,1121.8 1047.6,1112.1 1048.6,1117.2 1049.6,1115.7 1050.6,1106.4 1051.6,1106.6 1052.6,1102.5 1053.6,1103.6 1054.6,1092.1 1055.6,1091.8 1056.6,1093.9 1057.6,1088.7 1058.6,1091.9 1059.6,1100.6 1060.6,1102.9 1061.6,1105.7 1062.6,1112.6 1063.6,1108.8 1064.6,1118.8 1065.6,1114.0 1066.6,1121.7 1067.6,1120.4 1068.6,1120.9 1069.6,1119.9 1070.6,1121.9 1071.6,1116.7 1072.6,1121.7 1073.6,1115.1 1074.6,1121.2 1075.6,1124.9 1076.6,1125.0 1077.6,1117.2 1078.6,1124.5 1079.6,1121.3 1080.6,1119.6 1081.6,1119.0 1082.6,1119.8 1083.6,1119.9 1084.6,1125.4 1085.6,1123.4 1086.6,1116.6 1087.6,1123.3 1088.6,1121.1 1089.6,1125.2 1090.6,1117.3 1091.6,1122.1 1092.6,1119.4 1093.6,1116.4 1094.6,1115.4 1095.6,1124.2 1096.6,1114.7 1097.6,1117.5 1098.6,1120.1 1099.6,1118.3 1100.6,1121.3 1101.6,1117.3 1102.6,1124.0 1103.6,1122.0 1104.6,1122.8 1105.6,1126.5 1106.6,1117.8 1107.6,1121.2 1108.6,1118.0 1109.6,1119.7 1110.6,1122.1 1111.6,1125.1 1112.6,1118.9 1113.6,1125.9 1114.6,1125.1 1115.6,1122.4 1116.6,1126.8 1117.6,1121.9 1118.6,1127.9 1119.6,1127.6 1120.6,1121.4 1121.6,1126.3 1122.6,1123.0 1123.6,1118.8 1124.6,1117.9 1125.6,1117.8 1126.6,1117.0 1127.6,1113.4 1128.6,1111.6 1129.6,1103.0 1130.6,1096.2 1131.6,1095.7 1132.6,1097.3 1133.6,1094.4 1134.6,1100.8 1135.6,1098.1 1136.6,1102.6 1137.6,1105.2 1138.6,1114.4 1139.6,1111.7 1140.6,1109.7 1141.6,1118.2 1142.6,1122.2 1143.6,1121.4 1144.6,1115.0 1145.6,1125.5 1146.6,1119.6 1147.6,1127.2 1148.6,1128.1 1149.6,1126.2 1150.6,1119.1 1151.6,1121.8 1152.6,1118.7 1153.6,1125.4 1154.6,1117.1 1155.6,1120.7 1156.6,1124.2 1157.6,1125.3 1158.6,1121.1 1159.6,1117.5 1160.6,1126.4 1161.6,1120.1 1162.6,1122.4 1163.6,1116.6 1164.6,1119.6 1165.6,1126.2 1166.6,1123.5 1167.6,1123.0 1168.6,1120.9 1169.6,1115.8 1170.6,1116.7 1171.6,1124.7 1172.6,1115.4 1173.6,1121.4 1174.6,1118.2 1175.6,1122.0 1176.6,1115.5 1177.6,1115.2 1178.6,1120.1 1179.6,1117.0 1180.6,1122.8 1181.6,1125.1 1182.6,1115.6 1183.6,1116.6 1184.6,1115.1 1185.6,1116.7 1186.6,1114.0 1187.6,1116.8 1188.6,1112.3 1189.6,1110.9 1190.6,1109.8 1191.6,1102.5 1192.6,1083.6 1193.6,1068.5 1194.6,1051.7 1195.6,1028.7 1196.6,1006.0 1197.6,1007.7 1198.6,1017.0 1199.6,1032.0 1200.6,1050.2 1201.6,1075.8 1202.6,1083.6 1203.6,1093.7 1204.6,1105.8 1205.6,1109.0 1206.6,1118.3 1207.6,1112.4 1208.6,1113.3 1209.6,1116.3 1210.6,1123.5 1211.6,1122.7 1212.6,1115.1 1213.6,1116.4 1214.6,1125.4 1215.6,1121.0 1216.6,1119.1 1217.6,1115.2 1218.6,1116.6 1219.6,1115.1 1220.6,1125.1 1221.6,1126.8 1222.6,1123.2 1223.6,1126.8 1224.6,1120.3 1225.6,1122.6 1226.6,1125.9 1227.6,1126.1 1228.6,1124.8 1229.6,1118.7 1230.6,1127.5 1231.6,1119.5 1232.6,1123.8 1233.6,1126.2 1234.6,1118.6 1235.6,1122.5 1236.6,1124.7 1237.6,1129.2 1238.6,1126.5 1239.6,1123.8 1240.6,1126.1 1241.6,1123.5 1242.6,1118.5 1243.6,1119.0 1244.6,1122.9 1245.6,1122.8 1246.6,1119.6 1247.6,1118.2 1248.6,1116.4 1249.6,1124.5 1250.6,1119.0 1251.6,1125.1 1252.6,1128.1 1253.6,1127.3 1254.6,1124.5 1255.6,1118.2 1256.6,1125.1 1257.6,1127.8 1258.6,1120.0 1259.6,1125.6 1260.6,1122.0 1261.6,1124.8 1262.6,1124.3 1263.6,1119.7 1264.6,1121.8 1265.6,1117.7 1266.6,1118.1 1267.6,1120.1 1268.6,1124.9 1269.6,1121.5 1270.6,1126.9 1271.6,1124.8 1272.6,1127.8 1273.6,1126.5 1274.6,1122.8 1275.6,1119.1 1276.6,1123.2 1277.6,1123.4 1278.6,1118.9 1279.6,1119.3 1280.6,1128.3 1281.6,1126.6 1282.6,1121.6 1283.6,1118.1 1284.6,1120.9 1285.6,1124.2 1286.6,1128.9 1287.6,1118.7 1288.6,1126.5 1289.6,1129.3 1290.6,1129.5 1291.6,1125.6 1292.6,1127.8 1293.6,1126.8 1294.6,1119.7 1295.6,1122.6 1296.6,1130.0 1297.6,1120.7 1298.6,1121.4 1299.6,1126.4 1300.6,1129.4 1301.6,1123.6 1302.6,1126.2 1303.6,1130.2 1304.6,1128.4 1305.6,1119.2 1306.6,1126.3 1307.6,1119.9 1308.6,1129.0 1309.6,1126.3 1310.6,1128.0 1311.6,1123.1 1312.6,1118.1 1313.6,1119.4 1314.6,1117.7 1315.6,1124.8 1316.6,1125.8 1317.6,1121.3 1318.6,1125.7 1319.6,1119.0 1320.6,1121.6 1321.6,1121.6 1322.6,1122.5 1323.6,1117.6 1324.6,1119.3 1325.6,1118.8 1326.6,1124.9 1327.6,1123.2 1328.6,1129.0 1329.6,1125.3 1330.6,1120.7 1331.6,1119.1 1332.6,1125.0 1333.6,1126.0 1334.6,1118.0 1335.6,1121.7 1336.6,1126.1 1337.6,1125.0 1338.6,1117.1 1339.6,1122.0 1340.6,1126.9 1341.6,1124.7 1342.6,1119.1 1343.6,1123.4 1344.6,1123.4 1345.6,1123.8 1346.6,1130.6 1347.6,1128.6 1348.6,1130.3 1349.6,1127.9 1350.6,1129.5 1351.6,1123.2 1352.6,1128.9 1353.6,1124.7 1354.6,1127.6 1355.6,1120.9 1356.6,1128.3 1357.6,1123.0 1358.6,1129.0 1359.6,1122.4 1360.6,1123.7 1361.6,1125.2 1362.6,1129.7 1363.6,1128.3 1364.6,1123.4 1365.6,1126.4 1366.6,1130.2 1367.6,1130.5 1368.6,1128.9 1369.6,1124.2 1370.6,1130.7 1371.6,1124.7 1372.6,1128.4 1373.6,1129.1 1374.6,1127.7 1375.6,1120.6 1376.6,1122.3 1377.6,1128.4 1378.6,1126.9 1379.6,1128.9 1380.6,1127.0 1381.6,1126.4 1382.6,1128.2 1383.6,1128.4 1384.6,1121.0 1385.6,1126.7 1386.6,1127.8 1387.6,1118.7 1388.6,1122.6 1389.6,1123.9 1390.6,1124.4 1391.6,1128.0 1392.6,1118.7 1393.6,1119.5 1394.6,1127.2 1395.6,1121.4 1396.6,1123.2 1397.6,1119.3 1398.6,1127.8 1399.6,1122.0 1400.6,1116.4 1401.6,1123.7 1402.6,1117.2 1403.6,1108.3 1404.6,1098.0 1405.6,1084.4 1406.6,1076.7 1407.6,1050.6 1408.6,1040.3 1409.6,1046.0 1410.6,1054.8 1411.6,1080.4 1412.6,1096.0 1413.6,1108.2 1414.6,1112.9 1415.6,1116.4 1416.6,1124.1 1417.6,1127.6 1418.6,1124.2 1419.6,1128.2 1420.6,1120.2 1421.6,1127.1 1422.6,1121.0 1423.6,1121.0 1424.6,1117.9 1425.6,1127.4 1426.6,1118.2 1427.6,1118.5 1428.6,1119.3 1429.6,1120.8 1430.6,1125.7 1431.6,1118.2 1432.6,1118.7 1433.6,1120.9 1434.6,1128.7 1435.6,1128.6 1436.6,1129.0 1437.6,1124.4 1438.6,1118.5 1439.6,1124.7 1440.6,1120.7 1441.6,1118.6 1442.6,1120.0 1443.6,1125.2 1444.6,1124.2 1445.6,1126.2 1446.6,1125.4 1447.6,1125.3 1448.6,1125.1 1449.6,1127.5 1450.6,1125.5 1451.6,1123.7 1452.6,1117.8 1453.6,1112.8 1454.6,1114.1 1455.6,1106.2 1456.6,1099.9 1457.6,1086.6 1458.6,1076.0 1459.6,1080.6 1460.6,1074.9 1461.6,1086.5 1462.6,1086.1 1463.6,1094.0 1464.6,1101.1 1465.6,1106.9 1466.6,1118.4 1467.6,1112.5 1468.6,1117.5 1469.6,1121.4 1470.6,1122.1 1471.6,1124.4 1472.6,1123.5 1473.6,1119.7 1474.6,1119.5 1475.6,1127.7 1476.6,1122.7 1477.6,1121.6 1478.6,1123.2 1479.6,1121.4 1480.6,1128.5 1481.6,1122.4 1482.6,1126.5 1483.6,1124.6 1484.6,1126.4 1485.6,1130.7 1486.6,1126.4 1487.6,1123.0 1488.6,1129.6 1489.6,1125.9 1490.6,1125.9 1491.6,1132.5 1492.6,1125.9 1493.6,1126.4 1494.6,1127.7 1495.6,1131.3 1496.6,1131.1 1497.6,1126.7 1498.6,1122.3 1499.6,1122.0 1500.6,1122.9 1501.6,1132.4 1502.6,1126.0 1503.6,1126.4 1504.6,1128.3 1505.6,1125.7 1506.6,1122.3 1507.6,1128.5 1508.6,1122.8 1509.6,1124.7 1510.6,1121.2 1511.6,1128.0 1512.6,1129.6 1513.6,1123.2 1514.6,1118.7 1515.6,1120.3 1516.6,1116.4 1517.6,1114.9 1518.6,1117.6 1519.6,1115.0 1520.6,1114.2 1521.6,1112.1 1522.6,1114.7 1523.6,1114.7 1524.6,1115.8 1525.6,1114.7 1526.6,1125.5 1527.6,1121.6 1528.6,1128.1 1529.6,1129.8 1530.6,1125.3 1531.6,1128.8 1532.6,1127.9 1533.6,1131.5 1534.6,1133.4 1535.6,1122.5 1536.6,1131.9 1537.6,1124.7 1538.6,1124.3 1539.6,1129.5 1540.6,1124.2 1541.6,1127.0 1542.6,1122.9 1543.6,1121.5 1544.6,1126.5 1545.6,1122.9 1546.6,1131.0 1547.6,1121.2 1548.6,1122.5 1549.6,1131.9 1550.6,1124.8 1551.6,1129.1 1552.6,1123.0 1553.6,1130.6 1554.6,1129.0 1555.6,1132.6 1556.6,1131.6 1557.6,1131.5 1558.6,1129.7 1559.6,1130.9 1560.6,1133.1 1561.6,1128.7 1562.6,1131.0 1563.6,1124.0 1564.6,1130.9 1565.6,1126.9 1566.6,1120.7 1567.6,1120.6 1568.6,1121.1 1569.6,1118.1 1570.6,1122.8 1571.6,1123.6 1572.6,1124.4 1573.6,1123.2 1574.6,1121.3 1575.6,1127.5 1576.6,1125.4 1577.6,1121.6 1578.6,1130.7 1579.6,1123.8 1580.6,1130.9 1581.6,1130.9 1582.6,1135.8 1583.6,1134.9 1584.6,1128.0 1585.6,1129.6 1586.6,1123.9 1587.6,1127.5 1588.6,1124.2 1589.6,1124.6 1590.6,1124.9 1591.6,1131.4 1592.6,1128.3 1593.6,1131.9 1594.6,1128.1 1595.6,1127.7 1596.6,1135.1 1597.6,1127.9 1598.6,1124.6 1599.6,1126.3 1600.6,1131.7 1601.6,1128.1 1602.6,1131.7 1603.6,1130.4 1604.6,1133.2 1605.6,1125.4 1606.6,1133.8 1607.6,1126.6 1608.6,1129.7 1609.6,1135.7 1610.6,1129.4 1611.6,1131.7 1612.6,1128.8 1613.6,1125.7 1614.6,1129.7 1615.6,1124.3 1616.6,1123.7 1617.6,1127.6 1618.6,1126.9 1619.6,1133.0 1620.6,1129.7 1621.6,1128.8 1622.6,1128.5 1623.6,1136.0 1624.6,1135.5 1625.6,1132.8 1626.6,1127.7 1627.6,1132.0 1628.6,1126.5 1629.6,1126.9 1630.6,1129.5 1631.6,1125.8 1632.6,1125.3 1633.6,1130.0 1634.6,1132.4 1635.6,1125.7 1636.6,1131.8 1637.6,1123.6 1638.6,1126.2 1639.6,1125.4 1640.6,1129.9 1641.6,1127.4 1642.6,1127.4 1643.6,1122.0 1644.6,1123.1 1645.6,1123.9 1646.6,1129.0 1647.6,1131.2 1648.6,1132.2 1649.6,1131.6 1650.6,1131.5 1651.6,1131.7 1652.6,1129.4 1653.6,1122.6 1654.6,1122.6 1655.6,1121.2 1656.6,1127.2 1657.6,1126.1 1658.6,1119.5 1659.6,1120.7 1660.6,1119.2 1661.6,1127.6 1662.6,1127.9 1663.6,1128.1 1664.6,1128.3 1665.6,1128.0 1666.6,1128.0 1667.6,1125.3 1668.6,1129.9 1669.6,1130.9 1670.6,1131.9 1671.6,1125.9 1672.6,1135.2 1673.6,1132.8 1674.6,1132.5 1675.6,1127.9 1676.6,1130.6 1677.6,1132.0 1678.6,1127.2 1679.6,1132.3 1680.6,1131.4 1681.6,1133.7 1682.6,1131.4 1683.6,1133.2 1684.6,1136.4 1685.6,1133.3 1686.6,1126.4 1687.6,1127.3 1688.6,1130.6 1689.6,1130.9 1690.6,1132.4 1691.6,1129.8 1692.6,1129.2 1693.6,1124.3 1694.6,1131.4 1695.6,1126.3 1696.6,1129.2 1697.6,1126.9 1698.6,1125.5 1699.6,1120.6 1700.6,1113.5 1701.6,1117.9 1702.6,1120.1 1703.6,1118.9 1704.6,1118.4 1705.6,1127.6 1706.6,1129.3 1707.6,1123.6 1708.6,1122.3 1709.6,1131.3 1710.6,1131.8 1711.6,1126.7 1712.6,1128.0 1713.6,1129.2 1714.6,1134.5 1715.6,1137.5 1716.6,1137.2 1717.6,1130.2 1718.6,1131.9 1719.6,1134.3 1720.6,1135.4 1721.6,1131.2 1722.6,1132.5 1723.6,1134.6 1724.6,1134.4 1725.6,1134.9 1726.6,1132.0 1727.6,1125.6 1728.6,1127.2 1729.6,1130.0 1730.6,1128.3 1731.6,1136.7 1732.6,1129.6 1733.6,1137.2 1734.6,1130.9 1735.6,1138.0 1736.6,1138.2 1737.6,1141.0 1738.6,1137.0 1739.6,1139.4 1740.6,1138.5 1741.6,1132.4 1742.6,1134.0 1743.6,1128.6 1744.6,1129.5 1745.6,1136.5 1746.6,1128.7 1747.6,1129.6 1748.6,1127.7 1749.6,1134.2 1750.6,1126.4 1751.6,1130.8 1752.6,1125.4 1753.6,1132.2 1754.6,1123.7 1755.6,1127.6 1756.6,1129.9 1757.6,1124.3 1758.6,1120.6 1759.6,1118.6 1760.6,1109.8 1761.6,1100.5 1762.6,1102.0 1763.6,1101.6 1764.6,1097.3 1765.6,1105.1 1766.6,1115.7 1767.6,1115.6 1768.6,1121.1 1769.6,1124.6 1770.6,1124.8 1771.6,1134.5 1772.6,1132.2 1773.6,1132.7 1774.6,1133.9 1775.6,1134.9 1776.6,1131.1 1777.6,1135.9 1778.6,1125.1 1779.6,1127.5 1780.6,1126.6 1781.6,1131.0 1782.6,1132.5 1783.6,1133.2 1784.6,1134.5 1785.6,1133.7 1786.6,1129.4 1787.6,1130.5 1788.6,1131.6 1789.6,1126.6 1790.6,1132.5 1791.6,1136.0 1792.6,1129.6 1793.6,1131.7 1794.6,1129.7 1795.6,1128.8 1796.6,1130.9 1797.6,1131.7 1798.6,1127.7 1799.6,1133.2 1800.6,1133.3 1801.6,1137.0 1802.6,1133.9 1803.6,1126.4 1804.6,1127.7 1805.6,1136.4 1806.6,1128.0 1807.6,1129.5 1808.6,1133.1 1809.6,1137.7 1810.6,1134.9 1811.6,1130.8 1812.6,1135.5 1813.6,1142.8 1814.6,1134.6 1815.6,1139.5 1816.6,1135.1 1817.6,1132.1 1818.6,1135.2 1819.6,1136.5 1820.6,1140.5 1821.6,1132.7 1822.6,1140.0 1823.6,1131.5 1824.6,1133.2 1825.6,1134.1 1826.6,1139.6 1827.6,1132.8 1828.6,1132.0 1829.6,1128.2 1830.6,1130.0 1831.6,1133.8 1832.6,1134.1 1833.6,1130.2 1834.6,1134.8 1835.6,1124.4 1836.6,1130.3 1837.6,1126.5 1838.6,1126.8 1839.6,1123.6 1840.6,1120.6 1841.6,1120.4 1842.6,1119.2 1843.6,1124.6 1844.6,1129.8 1845.6,1121.1 1846.6,1129.9 1847.6,1128.0 1848.6,1124.0 1849.6,1123.9 1850.6,1125.4 1851.6,1135.0 1852.6,1131.6 1853.6,1136.8 1854.6,1129.5 1855.6,1128.8 1856.6,1133.2 1857.6,1128.0 1858.6,1132.0 1859.6,1132.3 1860.6,1136.9 1861.6,1134.0 1862.6,1126.1 1863.6,1126.3 1864.6,1125.9 1865.6,1131.7 1866.6,1131.8 1867.6,1131.5 1868.6,1134.8 1869.6,1127.1 1870.6,1130.3 1871.6,1133.5 1872.6,1131.2 1873.6,1126.8 1874.6,1122.8 1875.6,1122.3 1876.6,1131.6 1877.6,1123.1 1878.6,1123.0 1879.6,1132.4 1880.6,1131.1 1881.6,1131.0 1882.6,1134.3 1883.6,1130.7 1884.6,1132.3 1885.6,1131.3 1886.6,1130.0 1887.6,1135.7 1888.6,1132.3 1889.6,1132.4 1890.6,1134.4 1891.6,1135.2 1892.6,1136.6 1893.6,1135.7 1894.6,1131.4 1895.6,1129.1 1896.6,1134.9 1897.6,1130.5 1898.6,1132.9 1899.6,1138.3 1900.6,1129.5 1901.6,1133.1 1902.6,1131.6 1903.6,1134.8 1904.6,1135.4 1905.6,1132.0 1906.6,1139.1 1907.6,1134.6 1908.6,1129.3 1909.6,1136.2 1910.6,1134.4 1911.6,1130.9 1912.6,1135.0 1913.6,1134.8 1914.6,1130.1 1915.6,1136.3 1916.6,1133.3 1917.6,1126.7 1918.6,1128.0 1919.6,1126.1 1920.6,1132.8 1921.6,1126.9 1922.6,1130.6 1923.6,1130.8 1924.6,1125.9 1925.6,1136.0 1926.6,1135.8 1927.6,1136.8 1928.6,1130.1 1929.6,1129.8 1930.6,1128.5 1931.6,1138.4 1932.6,1136.3 1933.6,1129.5 1934.6,1128.4 1935.6,1137.7 1936.6,1131.9 1937.6,1133.2 1938.6,1138.1 1939.6,1138.6 1940.6,1135.4 1941.6,1138.8 1942.6,1134.2" fill="none" stroke="#ff0000" stroke-width="12" stroke-linejoin="round" stroke-linecap="round"/>
<path clip-path="url(#c)" d="M216.6,721.1 L217.6,722.0 218.6,724.5 219.6,725.5 220.6,730.2 221.6,725.0 222.6,722.5 223.6,731.0 224.6,723.9 225.6,724.1 226.6,732.6 227.6,730.4 228.6,726.1 229.6,724.0 230.6,726.4 231.6,725.8 232.6,730.9 233.6,726.1 234.6,722.5 235.6,730.7 236.6,727.4 237.6,722.1 238.6,721.8 239.6,725.6 240.6,722.1 241.6,727.7 242.6,727.8 243.6,722.2 244.6,730.2 245.6,730.2 246.6,731.4 247.6,728.9 248.6,729.1 249.6,723.7 250.6,722.2 251.6,722.6 252.6,731.5 253.6,728.3 254.6,731.3 255.6,725.2 256.6,729.3 257.6,722.3 258.6,723.3 259.6,724.4 260.6,727.0 261.6,727.0 262.6,726.4 263.6,725.5 264.6,727.0 265.6,730.8 266.6,725.6 267.6,729.5 268.6,721.8 269.6,725.2 270.6,727.1 271.6,727.8 272.6,724.1 273.6,725.7 274.6,730.9 275.6,727.6 276.6,726.7 277.6,721.1 278.6,720.7 279.6,722.0 280.6,720.9 281.6,729.5 282.6,719.8 283.6,723.6 284.6,720.6 285.6,726.5 286.6,720.7 287.6,721.0 288.6,721.0 289.6,722.9 290.6,725.8 291.6,728.0 292.6,722.6 293.6,722.6 294.6,727.9 295.6,727.4 296.6,721.4 297.6,728.4 298.6,728.9 299.6,722.6 300.6,727.3 301.6,723.3 302.6,723.6 303.6,725.9 304.6,726.1 305.6,725.5 306.6,726.0 307.6,722.5 308.6,728.0 309.6,722.9 310.6,729.2 311.6,725.1 312.6,722.9 313.6,721.5 314.6,724.5 315.6,723.4 316.6,725.7 317.6,724.3 318.6,719.6 319.6,727.4 320.6,719.5 321.6,727.1 322.6,726.8 323.6,728.0 324.6,725.5 325.6,720.6 326.6,723.5 327.6,723.6 328.6,725.6 329.6,723.2 330.6,726.2 331.6,721.5 332.6,723.0 333.6,725.0 334.6,723.9 335.6,720.9 336.6,729.3 337.6,726.5 338.6,727.8 339.6,723.0 340.6,728.8 341.6,727.4 342.6,729.0 343.6,721.1 344.6,724.2 345.6,723.6 346.6,726.2 347.6,722.9 348.6,721.8 349.6,725.9 350.6,727.9 351.6,725.2 352.6,731.2 353.6,725.3 354.6,724.1 355.6,729.2 356.6,725.6 357.6,723.6 358.6,722.9 359.6,728.6 360.6,727.9 361.6,723.9 362.6,719.3 363.6,722.8 364.6,717.0 365.6,718.2 366.6,720.5 367.6,719.3 368.6,719.0 369.6,725.4 370.6,717.5 371.6,722.1 372.6,716.7 373.6,717.6 374.6,719.2 375.6,727.4 376.6,725.1 377.6,726.9 378.6,719.1 379.6,725.3 380.6,722.8 381.6,722.5 382.6,725.4 383.6,721.3 384.6,723.3 385.6,720.7 386.6,722.1 387.6,723.6 388.6,720.0 389.6,721.3 390.6,722.9 391.6,723.5 392.6,726.9 393.6,725.3 394.6,724.5 395.6,727.6 396.6,720.8 397.6,719.9 398.6,722.8 399.6,720.2 400.6,724.8 401.6,725.4 402.6,721.4 403.6,727.7 404.6,726.5 405.6,725.6 406.6,731.0 407.6,729.6 408.6,722.5 409.6,721.2 410.6,728.0 411.6,719.6 412.6,724.9 413.6,719.7 414.6,720.3 415.6,722.4 416.6,726.3 417.6,717.2 418.6,719.0 419.6,724.7 420.6,721.6 421.6,721.1 422.6,728.4 423.6,722.0 424.6,727.0 425.6,730.1 426.6,728.6 427.6,728.6 428.6,728.4 429.6,728.9 430.6,723.3 431.6,726.5 432.6,727.9 433.6,728.4 434.6,728.3 435.6,728.3 436.6,720.2 437.6,723.0 438.6,723.8 439.6,728.1 440.6,723.4 441.6,721.9 442.6,719.1 443.6,721.6 444.6,726.2 445.6,718.3 446.6,719.5 447.6,720.7 448.6,722.6 449.6,720.6 450.6,725.6 451.6,718.6 452.6,721.8 453.6,723.7 454.6,725.0 455.6,724.2 456.6,717.2 457.6,724.2 458.6,723.4 459.6,721.3 460.6,717.7 461.6,719.5 462.6,725.8 463.6,719.1 464.6,721.4 465.6,720.8 466.6,725.7 467.6,721.8 468.6,719.0 469.6,721.8 470.6,721.1 471.6,724.7 472.6,720.4 473.6,723.8 474.6,722.0 475.6,725.1 476.6,723.3 477.6,720.1 478.6,721.0 479.6,721.0 480.6,725.1 481.6,717.9 482.6,720.9 483.6,722.1 484.6,721.3 485.6,723.0 486.6,722.2 487.6,721.4 488.6,724.3 489.6,720.9 490.6,723.8 491.6,724.8 492.6,718.6 493.6,720.3 494.6,726.3 495.6,726.3 496.6,726.4 497.6,716.7 498.6,724.7 499.6,726.0 500.6,725.8 501.6,724.1 502.6,723.9 503.6,724.6 504.6,723.3 505.6,725.5 506.6,722.7 507.6,719.9 508.6,718.7 509.6,726.8 510.6,725.3 511.6,719.6 512.6,726.0 513.6,720.8 514.6,724.1 515.6,721.3 516.6,719.9 517.6,719.5 518.6,718.4 519.6,718.3 520.6,718.1 521.6,718.2 522.6,725.5 523.6,722.2 524.6,718.2 525.6,722.0 526.6,722.4 527.6,722.2 528.6,719.6 529.6,722.1 530.6,726.7 531.6,722.1 532.6,723.5 533.6,727.8 534.6,720.9 535.6,725.9 536.6,723.5 537.6,726.6 538.6,722.4 539.6,724.3 540.6,722.4 541.6,727.3 542.6,727.6 543.6,724.7 544.6,728.0 545.6,725.4 546.6,726.2 547.6,726.6 548.6,720.1 549.6,727.0 550.6,720.8 551.6,721.6 552.6,718.1 553.6,724.3 554.6,719.8 555.6,723.6 556.6,719.3 557.6,721.0 558.6,721.6 559.6,720.5 560.6,718.8 561.6,725.9 562.6,727.4 563.6,719.9 564.6,719.0 565.6,720.5 566.6,717.6 567.6,723.0 568.6,720.5 569.6,722.7 570.6,726.4 571.6,726.3 572.6,727.2 573.6,727.7 574.6,724.5 575.6,723.2 576.6,718.1 577.6,718.3 578.6,722.0 579.6,724.9 580.6,720.2 581.6,715.5 582.6,718.0 583.6,723.9 584.6,718.4 585.6,719.2 586.6,720.5 587.6,724.2 588.6,726.9 589.6,720.5 590.6,724.1 591.6,723.2 592.6,722.1 593.6,723.3 594.6,725.4 595.6,719.2 596.6,721.7 597.6,717.4 598.6,721.3 599.6,723.8 600.6,725.6 601.6,720.1 602.6,718.0 603.6,721.0 604.6,719.1 605.6,716.8 606.6,721.1 607.6,724.0 608.6,725.2 609.6,726.2 610.6,720.2 611.6,719.1 612.6,717.8 613.6,721.1 614.6,724.9 615.6,719.3 616.6,725.5 617.6,724.2 618.6,719.1 619.6,723.4 620.6,725.4 621.6,726.5 622.6,718.9 623.6,725.5 624.6,724.8 625.6,719.1 626.6,719.4 627.6,725.7 628.6,719.4 629.6,718.4 630.6,722.4 631.6,716.5 632.6,720.0 633.6,718.7 634.6,720.5 635.6,721.1 636.6,721.4 637.6,719.3 638.6,724.1 639.6,723.9 640.6,725.2 641.6,720.6 642.6,723.7 643.6,721.0 644.6,719.8 645.6,723.4 646.6,726.1 647.6,724.6 648.6,719.2 649.6,718.5 650.6,723.8 651.6,722.9 652.6,724.7 653.6,717.7 654.6,725.0 655.6,720.8 656.6,719.4 657.6,720.2 658.6,726.9 659.6,726.6 660.6,718.0 661.6,720.4 662.6,724.6 663.6,717.9 664.6,718.0 665.6,718.2 666.6,725.9 667.6,720.0 668.6,719.3 669.6,723.4 670.6,718.1 671.6,721.8 672.6,717.5 673.6,717.2 674.6,718.6 675.6,716.8 676.6,716.3 677.6,724.7 678.6,725.1 679.6,721.4 680.6,723.9 681.6,725.9 682.6,721.4 683.6,724.8 684.6,725.4 685.6,718.9 686.6,719.7 687.6,725.5 688.6,724.7 689.6,719.1 690.6,725.1 691.6,724.5 692.6,719.5 693.6,719.2 694.6,716.8 695.6,720.0 696.6,716.5 697.6,720.7 698.6,721.4 699.6,720.9 700.6,715.7 701.6,721.5 702.6,723.2 703.6,717.4 704.6,722.3 705.6,724.9 706.6,719.0 707.6,726.6 708.6,727.0 709.6,724.3 710.6,725.8 711.6,719.7 712.6,723.5 713.6,726.0 714.6,717.1 715.6,725.0 716.6,719.3 717.6,725.1 718.6,723.7 719.6,725.4 720.6,721.5 721.6,722.2 722.6,726.6 723.6,717.8 724.6,718.4 725.6,726.3 726.6,725.4 727.6,717.4 728.6,725.4 729.6,718.1 730.6,724.1 731.6,724.0 732.6,714.9 733.6,714.5 734.6,717.4 735.6,723.2 736.6,722.1 737.6,718.4 738.6,723.4 739.6,718.2 740.6,718.9 741.6,717.7 742.6,725.7 743.6,724.0 744.6,720.5 745.6,718.5 746.6,725.4 747.6,719.6 748.6,717.7 749.6,719.8 750.6,723.0 751.6,723.8 752.6,717.4 753.6,726.1 754.6,723.6 755.6,717.8 756.6,725.8 757.6,727.0 758.6,725.6 759.6,717.1 760.6,721.6 761.6,722.7 762.6,725.5 763.6,721.5 764.6,716.9 765.6,725.0 766.6,724.8 767.6,719.7 768.6,714.9 769.6,722.4 770.6,721.0 771.6,723.4 772.6,713.8 773.6,718.2 774.6,716.8 775.6,715.1 776.6,721.5 777.6,717.6 778.6,715.1 779.6,716.5 780.6,723.7 781.6,722.2 782.6,718.7 783.6,724.0 784.6,718.8 785.6,724.2 786.6,723.9 787.6,717.4 788.6,722.4 789.6,724.5 790.6,724.8 791.6,724.2 792.6,725.6 793.6,724.0 794.6,725.4 795.6,720.0 796.6,715.9 797.6,717.0 798.6,717.8 799.6,715.5 800.6,716.3 801.6,720.5 802.6,718.0 803.6,718.4 804.6,723.1 805.6,724.4 806.6,724.5 807.6,719.7 808.6,723.2 809.6,724.7 810.6,717.8 811.6,718.3 812.6,722.9 813.6,719.1 814.6,718.3 815.6,720.0 816.6,716.5 817.6,720.7 818.6,716.8 819.6,718.7 820.6,718.5 821.6,719.7 822.6,717.7 823.6,721.2 824.6,723.4 825.6,720.0 826.6,725.9 827.6,725.1 828.6,719.4 829.6,716.5 830.6,723.6 831.6,718.1 832.6,718.8 833.6,721.1 834.6,725.2 835.6,718.0 836.6,719.6 837.6,721.0 838.6,721.4 839.6,716.5 840.6,720.2 841.6,719.6 842.6,720.6 843.6,715.0 844.6,714.9 845.6,723.3 846.6,721.6 847.6,721.5 848.6,722.7 849.6,723.1 850.6,717.6 851.6,721.3 852.6,720.3 853.6,719.5 854.6,720.8 855.6,716.2 856.6,720.6 857.6,715.0 858.6,711.4 859.6,708.9 860.6,714.0 861.6,708.8 862.6,716.1 863.6,708.4 864.6,709.5 865.6,716.0 866.6,711.1 867.6,714.8 868.6,712.8 869.6,705.0 870.6,704.5 871.6,704.4 872.6,707.0 873.6,698.7 874.6,696.3 875.6,691.8 876.6,684.1 877.6,681.2 878.6,664.8 879.6,655.8 880.6,649.3 881.6,632.9 882.6,616.0 883.6,598.2 884.6,578.7 885.6,564.9 886.6,554.2 887.6,536.8 888.6,527.1 889.6,526.9 890.6,526.8 891.6,534.6 892.6,545.7 893.6,557.6 894.6,570.8 895.6,591.4 896.6,605.6 897.6,626.9 898.6,635.4 899.6,652.2 900.6,667.8 901.6,674.0 902.6,683.9 903.6,685.9 904.6,692.8 905.6,703.6 906.6,703.7 907.6,703.3 908.6,706.7 909.6,710.7 910.6,712.0 911.6,713.7 912.6,709.5 913.6,710.0 914.6,714.8 915.6,714.5 916.6,715.6 917.6,712.8 918.6,714.4 919.6,719.2 920.6,715.8 921.6,720.2 922.6,713.5 923.6,723.0 924.6,715.9 925.6,718.6 926.6,723.1 927.6,716.4 928.6,716.1 929.6,723.7 930.6,722.8 931.6,719.0 932.6,714.2 933.6,719.4 934.6,715.7 935.6,715.2 936.6,722.1 937.6,718.8 938.6,716.8 939.6,713.0 940.6,716.0 941.6,720.8 942.6,715.1 943.6,715.2 944.6,717.9 945.6,714.3 946.6,718.1 947.6,721.0 948.6,717.0 949.6,719.6 950.6,721.4 951.6,720.0 952.6,719.4 953.6,717.9 954.6,722.0 955.6,725.3 956.6,715.7 957.6,723.7 958.6,724.3 959.6,719.6 960.6,723.7 961.6,721.0 962.6,719.2 963.6,718.2 964.6,718.1 965.6,720.1 966.6,715.5 967.6,720.4 968.6,718.3 969.6,720.3 970.6,723.1 971.6,716.2 972.6,718.0 973.6,716.9 974.6,714.5 975.6,720.1 976.6,720.0 977.6,723.6 978.6,719.4 979.6,717.2 980.6,722.1 981.6,713.4 982.6,716.4 983.6,721.0 984.6,715.2 985.6,717.3 986.6,722.3 987.6,717.3 988.6,716.0 989.6,722.1 990.6,713.6 991.6,721.0 992.6,715.2 993.6,713.7 994.6,716.1 995.6,715.8 996.6,720.4 997.6,718.0 998.6,714.7 999.6,715.4 1000.6,712.6 1001.6,718.8 1002.6,712.3 1003.6,716.7 1004.6,713.7 1005.6,715.6 1006.6,709.2 1007.6,709.1 1008.6,707.7 1009.6,711.8 1010.6,712.4 1011.6,710.5 1012.6,705.9 1013.6,708.7 1014.6,706.6 1015.6,703.1 1016.6,697.4 1017.6,695.2 1018.6,696.7 1019.6,687.7 1020.6,686.5 1021.6,683.1 1022.6,674.5 1023.6,665.9 1024.6,652.4 1025.6,638.8 1026.6,623.3 1027.6,606.1 1028.6,587.8 1029.6,568.2 1030.6,541.3 1031.6,511.5 1032.6,483.5 1033.6,455.8 1034.6,431.2 1035.6,404.8 1036.6,378.9 1037.6,370.0 1038.6,362.6 1039.6,374.2 1040.6,388.0 1041.6,405.2 1042.6,432.3 1043.6,459.7 1044.6,490.3 1045.6,513.7 1046.6,540.5 1047.6,570.7 1048.6,595.4 1049.6,607.8 1050.6,628.2 1051.6,643.3 1052.6,654.4 1053.6,668.9 1054.6,671.6 1055.6,681.2 1056.6,687.8 1057.6,698.0 1058.6,699.2 1059.6,702.7 1060.6,708.3 1061.6,703.0 1062.6,708.8 1063.6,705.7 1064.6,707.9 1065.6,713.5 1066.6,714.9 1067.6,713.1 1068.6,712.5 1069.6,714.5 1070.6,716.0 1071.6,715.5 1072.6,714.8 1073.6,711.5 1074.6,715.3 1075.6,710.3 1076.6,717.4 1077.6,711.4 1078.6,718.7 1079.6,712.7 1080.6,713.0 1081.6,714.5 1082.6,716.6 1083.6,714.5 1084.6,715.7 1085.6,722.6 1086.6,722.9 1087.6,715.1 1088.6,717.8 1089.6,717.4 1090.6,721.3 1091.6,719.5 1092.6,716.8 1093.6,720.8 1094.6,719.2 1095.6,715.4 1096.6,721.5 1097.6,718.4 1098.6,722.8 1099.6,720.8 1100.6,715.8 1101.6,721.9 1102.6,720.3 1103.6,720.0 1104.6,718.9 1105.6,721.5 1106.6,715.6 1107.6,720.3 1108.6,724.9 1109.6,717.9 1110.6,717.4 1111.6,720.4 1112.6,721.8 1113.6,720.6 1114.6,721.6 1115.6,723.3 1116.6,724.3 1117.6,716.8 1118.6,719.9 1119.6,722.1 1120.6,715.9 1121.6,725.4 1122.6,722.6 1123.6,721.2 1124.6,721.0 1125.6,718.2 1126.6,717.6 1127.6,723.9 1128.6,726.3 1129.6,724.9 1130.6,717.1 1131.6,717.3 1132.6,721.9 1133.6,722.5 1134.6,722.7 1135.6,725.3 1136.6,725.4 1137.6,726.2 1138.6,719.5 1139.6,720.7 1140.6,725.8 1141.6,722.8 1142.6,716.5 1143.6,725.2 1144.6,722.4 1145.6,718.3 1146.6,720.0 1147.6,722.4 1148.6,723.3 1149.6,720.8 1150.6,724.0 1151.6,721.8 1152.6,726.1 1153.6,724.7 1154.6,717.6 1155.6,717.0 1156.6,724.7 1157.6,722.5 1158.6,726.4 1159.6,721.3 1160.6,718.9 1161.6,717.7 1162.6,725.3 1163.6,718.2 1164.6,723.6 1165.6,722.5 1166.6,724.0 1167.6,725.8 1168.6,718.5 1169.6,720.8 1170.6,723.5 1171.6,718.0 1172.6,716.9 1173.6,717.4 1174.6,725.4 1175.6,724.0 1176.6,718.1 1177.6,716.8 1178.6,723.7 1179.6,721.1 1180.6,720.8 1181.6,721.1 1182.6,724.4 1183.6,723.7 1184.6,729.3 1185.6,725.3 1186.6,728.3 1187.6,728.2 1188.6,727.6 1189.6,723.3 1190.6,723.8 1191.6,723.3 1192.6,718.2 1193.6,727.4 1194.6,719.5 1195.6,723.5 1196.6,724.8 1197.6,725.9 1198.6,723.6 1199.6,724.7 1200.6,726.7 1201.6,725.0 1202.6,725.4 1203.6,727.4 1204.6,719.7 1205.6,724.0 1206.6,718.9 1207.6,719.9 1208.6,718.5 1209.6,726.7 1210.6,721.1 1211.6,722.8 1212.6,725.5 1213.6,724.6 1214.6,727.0 1215.6,722.7 1216.6,724.9 1217.6,726.6 1218.6,719.0 1219.6,722.8 1220.6,719.2 1221.6,724.0 1222.6,721.7 1223.6,727.2 1224.6,723.6 1225.6,720.7 1226.6,727.8 1227.6,723.3 1228.6,719.2 1229.6,721.7 1230.6,722.8 1231.6,719.2 1232.6,720.3 1233.6,721.6 1234.6,721.6 1235.6,722.3 1236.6,720.6 1237.6,720.5 1238.6,721.6 1239.6,720.2 1240.6,724.6 1241.6,725.4 1242.6,718.2 1243.6,720.1 1244.6,720.0 1245.6,723.0 1246.6,723.5 1247.6,727.1 1248.6,726.6 1249.6,727.8 1250.6,725.5 1251.6,724.3 1252.6,727.9 1253.6,724.1 1254.6,721.4 1255.6,720.5 1256.6,717.7 1257.6,726.6 1258.6,724.6 1259.6,720.7 1260.6,725.6 1261.6,724.5 1262.6,721.6 1263.6,726.5 1264.6,725.9 1265.6,721.5 1266.6,721.3 1267.6,718.6 1268.6,718.2 1269.6,720.8 1270.6,719.5 1271.6,718.2 1272.6,725.0 1273.6,727.3 1274.6,724.7 1275.6,727.4 1276.6,727.4 1277.6,725.6 1278.6,724.9 1279.6,723.7 1280.6,725.5 1281.6,724.2 1282.6,722.1 1283.6,724.7 1284.6,725.7 1285.6,724.3 1286.6,725.1 1287.6,720.5 1288.6,716.5 1289.6,718.9 1290.6,720.0 1291.6,722.9 1292.6,721.6 1293.6,724.5 1294.6,720.5 1295.6,723.2 1296.6,718.0 1297.6,724.4 1298.6,725.6 1299.6,725.0 1300.6,724.6 1301.6,717.3 1302.6,724.6 1303.6,720.8 1304.6,717.6 1305.6,717.2 1306.6,717.5 1307.6,723.6 1308.6,724.0 1309.6,726.1 1310.6,725.0 1311.6,723.8 1312.6,720.4 1313.6,726.3 1314.6,719.2 1315.6,726.0 1316.6,721.2 1317.6,720.9 1318.6,728.1 1319.6,728.0 1320.6,725.7 1321.6,720.5 1322.6,722.7 1323.6,721.2 1324.6,718.8 1325.6,719.9 1326.6,718.0 1327.6,727.0 1328.6,719.6 1329.6,721.0 1330.6,719.5 1331.6,723.7 1332.6,723.0 1333.6,725.2 1334.6,717.9 1335.6,720.0 1336.6,724.1 1337.6,724.1 1338.6,726.7 1339.6,719.3 1340.6,722.3 1341.6,722.8 1342.6,723.9 1343.6,722.4 1344.6,726.4 1345.6,720.0 1346.6,719.6 1347.6,722.1 1348.6,719.8 1349.6,722.8 1350.6,724.7 1351.6,719.7 1352.6,723.8 1353.6,725.0 1354.6,725.4 1355.6,720.3 1356.6,728.1 1357.6,727.8 1358.6,723.9 1359.6,725.2 1360.6,727.5 1361.6,728.0 1362.6,721.7 1363.6,726.6 1364.6,722.7 1365.6,727.5 1366.6,726.6 1367.6,721.2 1368.6,721.0 1369.6,722.1 1370.6,726.7 1371.6,718.3 1372.6,722.1 1373.6,723.2 1374.6,724.1 1375.6,717.6 1376.6,723.0 1377.6,721.6 1378.6,720.6 1379.6,727.0 1380.6,718.4 1381.6,724.4 1382.6,719.4 1383.6,726.8 1384.6,722.3 1385.6,721.9 1386.6,719.8 1387.6,722.7 1388.6,726.0 1389.6,718.1 1390.6,724.0 1391.6,718.9 1392.6,719.8 1393.6,726.1 1394.6,718.2 1395.6,724.8 1396.6,718.0 1397.6,722.4 1398.6,723.5 1399.6,718.7 1400.6,725.2 1401.6,719.5 1402.6,722.0 1403.6,719.7 1404.6,725.0 1405.6,719.9 1406.6,720.0 1407.6,717.6 1408.6,726.0 1409.6,716.9 1410.6,719.3 1411.6,722.2 1412.6,718.6 1413.6,720.8 1414.6,718.0 1415.6,723.7 1416.6,717.1 1417.6,716.2 1418.6,717.6 1419.6,722.4 1420.6,723.6 1421.6,726.6 1422.6,727.5 1423.6,721.6 1424.6,725.5 1425.6,720.9 1426.6,720.2 1427.6,717.5 1428.6,724.5 1429.6,719.1 1430.6,722.0 1431.6,720.5 1432.6,725.2 1433.6,717.6 1434.6,720.4 1435.6,722.6 1436.6,717.0 1437.6,723.7 1438.6,721.5 1439.6,717.3 1440.6,726.3 1441.6,721.2 1442.6,722.2 1443.6,725.4 1444.6,727.3 1445.6,720.2 1446.6,719.3 1447.6,725.5 1448.6,724.9 1449.6,722.7 1450.6,724.5 1451.6,727.2 1452.6,726.0 1453.6,723.0 1454.6,726.2 1455.6,726.0 1456.6,724.3 1457.6,717.7 1458.6,722.0 1459.6,722.3 1460.6,724.9 1461.6,721.1 1462.6,722.0 1463.6,722.8 1464.6,716.2 1465.6,715.6 1466.6,715.0 1467.6,715.5 1468.6,716.6 1469.6,714.2 1470.6,719.4 1471.6,719.9 1472.6,719.5 1473.6,715.8 1474.6,721.6 1475.6,718.4 1476.6,718.0 1477.6,726.6 1478.6,727.2 1479.6,718.2 1480.6,723.4 1481.6,716.7 1482.6,721.4 1483.6,721.1 1484.6,720.1 1485.6,723.4 1486.6,718.9 1487.6,713.7 1488.6,720.6 1489.6,713.5 1490.6,715.0 1491.6,713.1 1492.6,716.5 1493.6,708.8 1494.6,711.2 1495.6,711.3 1496.6,712.2 1497.6,714.5 1498.6,707.5 1499.6,706.8 1500.6,708.7 1501.6,702.4 1502.6,703.2 1503.6,698.6 1504.6,698.3 1505.6,693.8 1506.6,689.4 1507.6,680.4 1508.6,670.9 1509.6,660.1 1510.6,656.3 1511.6,641.8 1512.6,628.0 1513.6,620.2 1514.6,607.3 1515.6,599.5 1516.6,584.5 1517.6,575.4 1518.6,571.4 1519.6,566.3 1520.6,559.5 1521.6,565.8 1522.6,574.8 1523.6,582.9 1524.6,592.6 1525.6,598.6 1526.6,617.5 1527.6,622.5 1528.6,636.8 1529.6,645.3 1530.6,660.4 1531.6,671.4 1532.6,679.4 1533.6,679.9 1534.6,695.5 1535.6,693.6 1536.6,702.0 1537.6,707.1 1538.6,708.4 1539.6,708.0 1540.6,709.9 1541.6,706.6 1542.6,709.4 1543.6,714.0 1544.6,712.6 1545.6,712.3 1546.6,712.3 1547.6,708.6 1548.6,716.1 1549.6,710.7 1550.6,710.2 1551.6,716.0 1552.6,711.9 1553.6,720.9 1554.6,717.8 1555.6,713.1 1556.6,712.0 1557.6,717.6 1558.6,711.8 1559.6,711.7 1560.6,715.1 1561.6,715.2 1562.6,719.8 1563.6,713.6 1564.6,721.7 1565.6,717.8 1566.6,723.0 1567.6,716.7 1568.6,716.4 1569.6,720.2 1570.6,717.8 1571.6,720.3 1572.6,723.6 1573.6,724.1 1574.6,716.0 1575.6,717.5 1576.6,718.2 1577.6,717.0 1578.6,720.1 1579.6,716.1 1580.6,717.6 1581.6,716.4 1582.6,720.5 1583.6,725.0 1584.6,716.8 1585.6,723.8 1586.6,717.8 1587.6,721.7 1588.6,722.3 1589.6,719.6 1590.6,721.5 1591.6,721.3 1592.6,725.0 1593.6,724.1 1594.6,721.2 1595.6,720.6 1596.6,720.0 1597.6,723.6 1598.6,720.8 1599.6,720.9 1600.6,727.5 1601.6,725.7 1602.6,724.1 1603.6,727.2 1604.6,723.4 1605.6,721.4 1606.6,723.6 1607.6,722.1 1608.6,717.4 1609.6,717.8 1610.6,719.6 1611.6,716.5 1612.6,723.8 1613.6,715.4 1614.6,724.1 1615.6,725.4 1616.6,722.1 1617.6,718.4 1618.6,724.2 1619.6,720.3 1620.6,722.7 1621.6,718.6 1622.6,717.4 1623.6,724.5 1624.6,715.4 1625.6,715.4 1626.6,722.8 1627.6,722.9 1628.6,718.4 1629.6,719.2 1630.6,722.5 1631.6,721.8 1632.6,722.0 1633.6,719.5 1634.6,724.7 1635.6,716.1 1636.6,720.7 1637.6,716.1 1638.6,717.1 1639.6,717.5 1640.6,723.5 1641.6,721.7 1642.6,720.0 1643.6,722.7 1644.6,722.7 1645.6,724.2 1646.6,720.5 1647.6,721.2 1648.6,721.4 1649.6,717.0 1650.6,715.7 1651.6,720.8 1652.6,716.3 1653.6,722.4 1654.6,714.8 1655.6,717.0 1656.6,721.2 1657.6,716.3 1658.6,719.4 1659.6,718.3 1660.6,718.2 1661.6,718.0 1662.6,725.6 1663.6,719.3 1664.6,717.4 1665.6,725.6 1666.6,718.2 1667.6,723.7 1668.6,722.7 1669.6,723.0 1670.6,723.3 1671.6,717.1 1672.6,715.4 1673.6,719.0 1674.6,719.3 1675.6,717.3 1676.6,723.1 1677.6,716.2 1678.6,720.2 1679.6,720.6 1680.6,715.5 1681.6,723.4 1682.6,718.8 1683.6,719.7 1684.6,716.7 1685.6,719.0 1686.6,719.4 1687.6,720.8 1688.6,715.3 1689.6,719.3 1690.6,720.0 1691.6,724.7 1692.6,721.2 1693.6,722.2 1694.6,719.9 1695.6,720.2 1696.6,724.8 1697.6,718.9 1698.6,724.4 1699.6,720.4 1700.6,723.2 1701.6,719.5 1702.6,722.2 1703.6,722.3 1704.6,718.1 1705.6,717.7 1706.6,724.0 1707.6,718.0 1708.6,722.7 1709.6,716.7 1710.6,719.9 1711.6,718.8 1712.6,717.9 1713.6,717.5 1714.6,724.8 1715.6,721.9 1716.6,719.8 1717.6,720.9 1718.6,723.6 1719.6,721.9 1720.6,716.3 1721.6,717.1 1722.6,723.9 1723.6,720.6 1724.6,721.0 1725.6,716.8 1726.6,716.7 1727.6,717.5 1728.6,718.7 1729.6,721.1 1730.6,719.2 1731.6,722.1 1732.6,719.6 1733.6,720.3 1734.6,724.6 1735.6,715.4 1736.6,721.3 1737.6,722.5 1738.6,717.2 1739.6,724.2 1740.6,717.0 1741.6,724.1 1742.6,718.2 1743.6,720.8 1744.6,720.2 1745.6,721.7 1746.6,722.1 1747.6,715.9 1748.6,723.3 1749.6,720.2 1750.6,723.9 1751.6,716.4 1752.6,719.2 1753.6,724.3 1754.6,721.1 1755.6,719.9 1756.6,719.5 1757.6,724.0 1758.6,714.8 1759.6,724.5 1760.6,719.1 1761.6,722.5 1762.6,719.0 1763.6,722.3 1764.6,714.8 1765.6,718.1 1766.6,721.6 1767.6,723.8 1768.6,719.0 1769.6,714.6 1770.6,721.4 1771.6,720.4 1772.6,715.2 1773.6,715.6 1774.6,718.3 1775.6,714.7 1776.6,722.0 1777.6,722.5 1778.6,719.9 1779.6,721.2 1780.6,716.4 1781.6,714.6 1782.6,721.1 1783.6,722.1 1784.6,721.5 1785.6,716.6 1786.6,714.7 1787.6,719.5 1788.6,715.0 1789.6,716.0 1790.6,717.3 1791.6,714.6 1792.6,720.9 1793.6,714.8 1794.6,717.1 1795.6,721.2 1796.6,718.1 1797.6,715.2 1798.6,718.8 1799.6,713.1 1800.6,712.2 1801.6,711.6 1802.6,717.8 1803.6,717.7 1804.6,717.7 1805.6,717.6 1806.6,716.4 1807.6,719.5 1808.6,714.0 1809.6,709.9 1810.6,710.3 1811.6,710.8 1812.6,711.5 1813.6,707.4 1814.6,706.2 1815.6,702.4 1816.6,704.1 1817.6,702.2 1818.6,693.8 1819.6,694.8 1820.6,685.0 1821.6,689.1 1822.6,679.6 1823.6,680.1 1824.6,677.9 1825.6,672.0 1826.6,676.9 1827.6,671.6 1828.6,676.9 1829.6,677.9 1830.6,682.0 1831.6,673.7 1832.6,671.5 1833.6,676.5 1834.6,673.0 1835.6,675.4 1836.6,673.6 1837.6,680.3 1838.6,677.9 1839.6,685.6 1840.6,692.2 1841.6,697.2 1842.6,694.7 1843.6,699.7 1844.6,706.2 1845.6,700.0 1846.6,708.6 1847.6,708.9 1848.6,712.3 1849.6,709.2 1850.6,710.3 1851.6,712.5 1852.6,711.9 1853.6,709.9 1854.6,716.0 1855.6,715.1 1856.6,716.3 1857.6,718.2 1858.6,715.1 1859.6,712.7 1860.6,719.2 1861.6,720.2 1862.6,712.9 1863.6,716.7 1864.6,714.4 1865.6,717.7 1866.6,711.2 1867.6,719.8 1868.6,719.2 1869.6,712.0 1870.6,717.3 1871.6,714.5 1872.6,713.7 1873.6,720.3 1874.6,719.7 1875.6,718.2 1876.6,718.9 1877.6,721.4 1878.6,716.0 1879.6,717.4 1880.6,714.7 1881.6,716.9 1882.6,713.9 1883.6,715.6 1884.6,718.6 1885.6,714.9 1886.6,718.7 1887.6,720.2 1888.6,718.5 1889.6,716.9 1890.6,716.1 1891.6,712.3 1892.6,718.7 1893.6,720.0 1894.6,712.3 1895.6,716.2 1896.6,714.7 1897.6,716.1 1898.6,715.3 1899.6,710.9 1900.6,710.7 1901.6,713.1 1902.6,711.9 1903.6,716.4 1904.6,711.4 1905.6,716.1 1906.6,715.8 1907.6,707.0 1908.6,713.9 1909.6,711.5 1910.6,701.9 1911.6,704.9 1912.6,697.9 1913.6,700.4 1914.6,694.3 1915.6,696.9 1916.6,689.4 1917.6,687.0 1918.6,693.2 1919.6,689.8 1920.6,686.8 1921.6,686.7 1922.6,680.2 1923.6,679.0 1924.6,681.8 1925.6,687.4 1926.6,688.5 1927.6,689.7 1928.6,688.6 1929.6,691.7 1930.6,696.1 1931.6,696.7 1932.6,695.1 1933.6,699.8 1934.6,706.6 1935.6,708.7 1936.6,701.6 1937.6,703.6 1938.6,704.4 1939.6,710.2 1940.6,714.9 1941.6,711.8 1942.6,710.6" fill="none" stroke="#0000ff" stroke-width="12" stroke-linejoin="round" stroke-linecap="round"/>
<rect x="216.6" y="61.2" width="1726.4" height="1485.8" fill="none" stroke="#000" stroke-width="9.6" stroke-linejoin="round"/>
<line x1="463.2" y1="1547" x2="463.2" y2="1573" stroke="#000" stroke-width="9.6" stroke-linecap="round"/>
<line x1="956.4" y1="1547" x2="956.4" y2="1573" stroke="#000" stroke-width="9.6" stroke-linecap="round"/>
<line x1="1449.6" y1="1547" x2="1449.6" y2="1573" stroke="#000" stroke-width="9.6" stroke-linecap="round"/>
<line x1="1942.8" y1="1547" x2="1942.8" y2="1573" stroke="#000" stroke-width="9.6" stroke-linecap="round"/>
<line x1="216.6" y1="1547" x2="216.6" y2="1560.5" stroke="#000" stroke-width="9.6" stroke-linecap="round"/>
<line x1="709.8" y1="1547" x2="709.8" y2="1560.5" stroke="#000" stroke-width="9.6" stroke-linecap="round"/>
<line x1="1203.0" y1="1547" x2="1203.0" y2="1560.5" stroke="#000" stroke-width="9.6" stroke-linecap="round"/>
<line x1="1696.2" y1="1547" x2="1696.2" y2="1560.5" stroke="#000" stroke-width="9.6" stroke-linecap="round"/>
<text transform="translate(404.93,1674.60) scale(1.0274,1.1352)" font-family='"Liberation Sans", Arial, sans-serif' font-weight="normal" font-size="100" fill="#000">20</text>
<text transform="translate(899.29,1674.60) scale(1.0073,1.1352)" font-family='"Liberation Sans", Arial, sans-serif' font-weight="normal" font-size="100" fill="#000">40</text>
<text transform="translate(1390.78,1674.60) scale(1.0279,1.1352)" font-family='"Liberation Sans", Arial, sans-serif' font-weight="normal" font-size="100" fill="#000">60</text>
<text transform="translate(1887.03,1674.60) scale(1.0060,1.1352)" font-family='"Liberation Sans", Arial, sans-serif' font-weight="normal" font-size="100" fill="#000">80</text>
<text transform="translate(729.98,1810.80) scale(0.9746,1.0500)" font-family='"Liberation Sans", Arial, sans-serif' font-weight="bold" font-size="100" fill="#000">Binding Enrgy (eV)</text>
<text transform="translate(115.40,1219.70) rotate(-90) scale(1.0763,1.0150)" font-family='"Liberation Sans", Arial, sans-serif' font-weight="bold" font-size="100" fill="#000">Intensity (a.u.)</text>
<line x1="1440.9" y1="161.7" x2="1579.5" y2="161.7" stroke="#0000ff" stroke-width="13.7" stroke-linecap="round"/>
<line x1="1440.9" y1="250.1" x2="1579.5" y2="250.1" stroke="#ff0000" stroke-width="13.7" stroke-linecap="round"/>
<line x1="1440.9" y1="337.9" x2="1579.5" y2="337.9" stroke="#000" stroke-width="13.7" stroke-linecap="round"/>
<text transform="translate(1596.91,183.60) scale(0.9373,1.0214)" font-family='"Liberation Sans", Arial, sans-serif' font-weight="bold" font-size="70" fill="#000">NiO</text>
<text transform="translate(1597.85,272.00) scale(0.9299,1.0214)" font-family='"Liberation Sans", Arial, sans-serif' font-weight="bold" font-size="70" fill="#000">MoS</text>
<text transform="translate(1737.02,272.00) scale(1.0108,1.0756)" font-family='"Liberation Sans", Arial, sans-serif' font-weight="bold" font-size="45" fill="#000">2</text>
<text transform="translate(1598.78,358.90) scale(0.9235,1.0214)" font-family='"Liberation Sans", Arial, sans-serif' font-weight="bold" font-size="70" fill="#000">NiO/MoS</text>
<text transform="translate(1871.10,358.90) scale(0.9601,1.0691)" font-family='"Liberation Sans", Arial, sans-serif' font-weight="bold" font-size="45" fill="#000">2</text>
<text transform="translate(243.81,663.20) scale(0.9081,1.0320)" font-family='"Liberation Serif", "Times New Roman", serif' font-weight="bold" font-size="70" fill="#1a00be">PDF#65-5745</text>
<text transform="translate(1544.41,832.50) scale(0.9093,1.0014)" font-family='"Liberation Serif", "Times New Roman", serif' font-weight="bold" font-size="70" fill="#ff0000">PDF#65-0160</text>
<text transform="translate(879.67,337.75) rotate(90) scale(1.0573,0.9642)" font-family='"Liberation Serif", "Times New Roman", serif' font-weight="bold" font-size="70" fill="#1a00be">(111)</text>
<text transform="translate(1016.87,181.55) rotate(90) scale(1.0573,0.9642)" font-family='"Liberation Serif", "Times New Roman", serif' font-weight="bold" font-size="70" fill="#1a00be">(200)</text>
<text transform="translate(1508.77,378.75) rotate(90) scale(1.0573,0.9642)" font-family='"Liberation Serif", "Times New Roman", serif' font-weight="bold" font-size="70" fill="#1a00be">(220)</text>
<text transform="translate(1803.97,484.15) rotate(90) scale(1.0573,0.9642)" font-family='"Liberation Serif", "Times New Roman", serif' font-weight="bold" font-size="70" fill="#1a00be">(311)</text>
<text transform="translate(344.87,747.55) rotate(90) scale(1.0573,0.9642)" font-family='"Liberation Serif", "Times New Roman", serif' font-weight="bold" font-size="70" fill="#ff0000">(002)</text>
<text transform="translate(761.17,790.35) rotate(90) scale(1.0573,0.9642)" font-family='"Liberation Serif", "Times New Roman", serif' font-weight="bold" font-size="70" fill="#ff0000">(100)</text>
<text transform="translate(821.57,873.15) rotate(90) scale(1.0573,0.9642)" font-family='"Liberation Serif", "Times New Roman", serif' font-weight="bold" font-size="70" fill="#ff0000">(101)</text>
<text transform="translate(880.97,873.15) rotate(90) scale(1.0573,0.9642)" font-family='"Liberation Serif", "Times New Roman", serif' font-weight="bold" font-size="70" fill="#ff0000">(102)</text>
<text transform="translate(977.37,790.35) rotate(90) scale(1.0573,0.9642)" font-family='"Liberation Serif", "Times New Roman", serif' font-weight="bold" font-size="70" fill="#ff0000">(103)</text>
<text transform="translate(1036.37,915.45) rotate(90) scale(1.0573,0.9642)" font-family='"Liberation Serif", "Times New Roman", serif' font-weight="bold" font-size="70" fill="#ff0000">(006)</text>
<text transform="translate(1115.87,915.45) rotate(90) scale(1.0573,0.9642)" font-family='"Liberation Serif", "Times New Roman", serif' font-weight="bold" font-size="70" fill="#ff0000">(104)</text>
<text transform="translate(1171.07,852.15) rotate(90) scale(1.0573,0.9642)" font-family='"Liberation Serif", "Times New Roman", serif' font-weight="bold" font-size="70" fill="#ff0000">(105)</text>
<text transform="translate(1391.37,852.75) rotate(90) scale(1.0573,0.9642)" font-family='"Liberation Serif", "Times New Roman", serif' font-weight="bold" font-size="70" fill="#ff0000">(110)</text>
<text transform="translate(1449.67,895.05) rotate(90) scale(1.0573,0.9642)" font-family='"Liberation Serif", "Times New Roman", serif' font-weight="bold" font-size="70" fill="#ff0000">(112)</text>
<text transform="translate(1683.37,918.75) rotate(90) scale(1.0573,0.9642)" font-family='"Liberation Serif", "Times New Roman", serif' font-weight="bold" font-size="70" fill="#ff0000">(202)</text>
<text transform="translate(1746.37,918.75) rotate(90) scale(1.0573,0.9642)" font-family='"Liberation Serif", "Times New Roman", serif' font-weight="bold" font-size="70" fill="#ff0000">(203)</text>
<text transform="translate(1821.27,918.75) rotate(90) scale(1.0573,0.9642)" font-family='"Liberation Serif", "Times New Roman", serif' font-weight="bold" font-size="70" fill="#ff0000">(116)</text>
</svg>
</body></html>
